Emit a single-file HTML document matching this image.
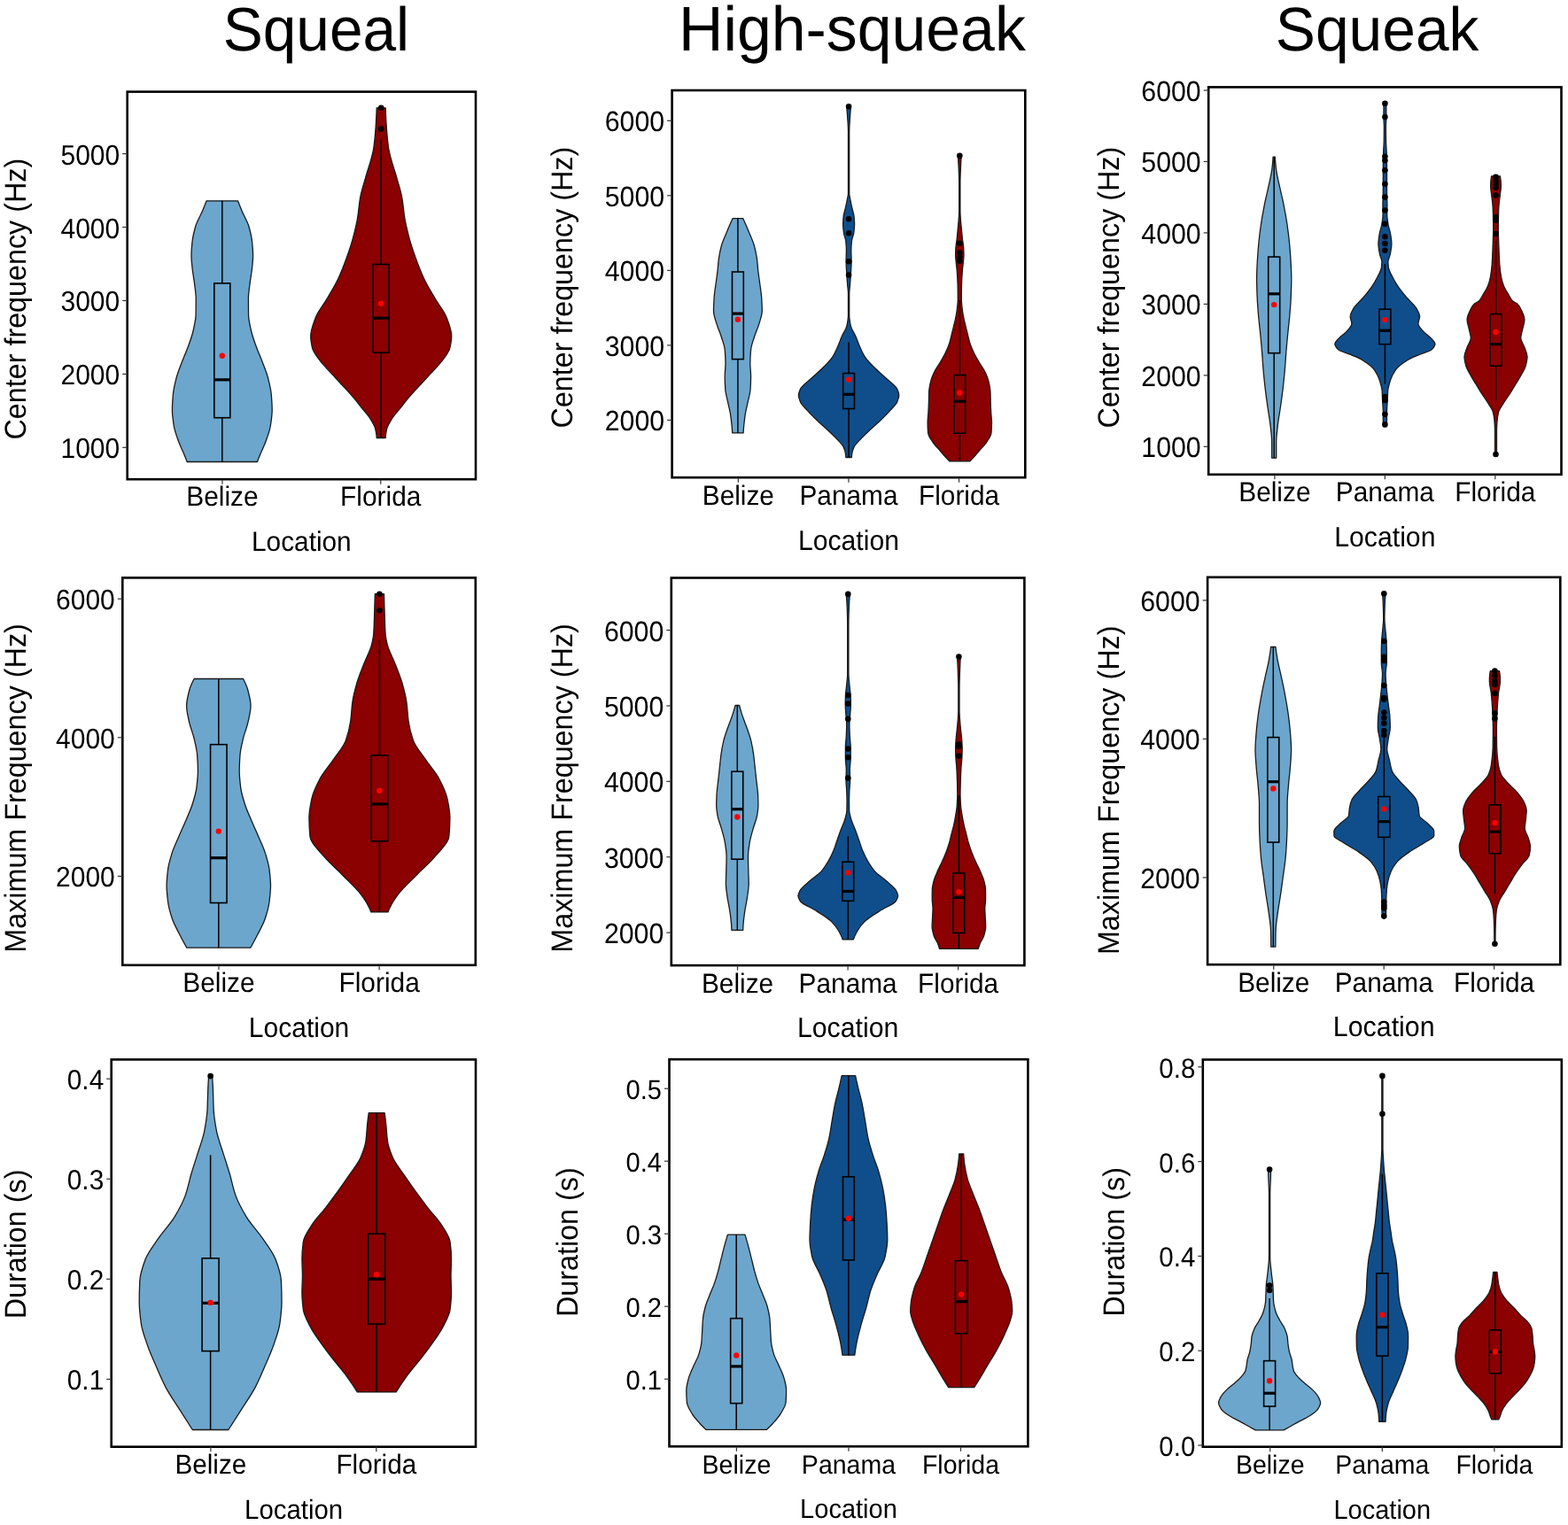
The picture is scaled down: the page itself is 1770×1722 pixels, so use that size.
<!DOCTYPE html>
<html><head><meta charset="utf-8"><title>Violin plots</title>
<style>html,body{margin:0;padding:0;background:#fff;}svg{display:block;font-family:'Liberation Sans', Arial, Helvetica, sans-serif;fill:#000;text-rendering:geometricPrecision;}</style>
</head><body>
<svg xmlns="http://www.w3.org/2000/svg" width="1770" height="1722" viewBox="0 0 1770 1722">
<rect width="1770" height="1722" fill="#fff"/>
<text transform="translate(356.90,57.00) scale(1,1.0300)" font-size="67.60" text-anchor="middle">Squeal</text>
<text transform="translate(961.90,57.10) scale(1,1.0200)" font-size="69.80" text-anchor="middle">High-squeak</text>
<text transform="translate(1554.60,56.60) scale(1,1.0300)" font-size="67.70" text-anchor="middle">Squeak</text>
<path d="M233.10,226.80 L268.50,226.80 C269.94,230.53 271.43,234.27 273.00,238.00 C275.52,244.00 279.31,250.00 281.00,256.00 C282.69,262.00 284.14,268.00 284.70,274.00 C285.15,278.80 285.60,283.60 285.60,288.40 C285.60,293.20 285.01,298.00 284.55,302.80 C283.98,308.80 282.70,314.80 282.00,320.80 C281.37,326.20 280.40,331.60 280.40,337.00 C280.40,343.00 280.44,349.00 280.50,355.00 C280.56,361.00 282.12,367.00 283.40,373.00 C284.68,379.00 286.98,385.00 289.10,391.00 C291.22,397.00 294.06,403.00 296.30,409.00 C298.54,415.00 301.07,421.00 302.60,427.00 C304.13,433.00 305.68,439.00 306.20,445.00 C306.72,451.00 307.20,457.00 307.20,463.00 C307.20,469.00 306.24,475.00 305.30,481.00 C304.36,487.00 301.96,493.00 299.80,499.00 C298.29,503.20 296.14,507.40 294.40,511.60 C293.03,514.90 291.70,518.20 290.40,521.50 L211.20,521.50 C209.90,518.20 208.57,514.90 207.20,511.60 C205.46,507.40 203.31,503.20 201.80,499.00 C199.64,493.00 197.24,487.00 196.30,481.00 C195.36,475.00 194.40,469.00 194.40,463.00 C194.40,457.00 194.88,451.00 195.40,445.00 C195.92,439.00 197.47,433.00 199.00,427.00 C200.53,421.00 203.06,415.00 205.30,409.00 C207.54,403.00 210.38,397.00 212.50,391.00 C214.62,385.00 216.92,379.00 218.20,373.00 C219.48,367.00 221.04,361.00 221.10,355.00 C221.16,349.00 221.20,343.00 221.20,337.00 C221.20,331.60 220.23,326.20 219.60,320.80 C218.90,314.80 217.62,308.80 217.05,302.80 C216.59,298.00 216.00,293.20 216.00,288.40 C216.00,283.60 216.45,278.80 216.90,274.00 C217.46,268.00 218.91,262.00 220.60,256.00 C222.29,250.00 226.08,244.00 228.60,238.00 C230.17,234.27 231.66,230.53 233.10,226.80 Z" fill="#6CA6CD" stroke="#1a1a1a" stroke-width="1.30" stroke-linejoin="round"/>
<path d="M425.20,121.80 L435.20,121.80 C435.39,129.20 435.81,136.60 436.30,144.00 C436.79,151.53 437.44,159.07 438.50,166.60 C439.04,170.40 440.05,174.20 441.00,178.00 C442.88,185.53 445.68,193.07 447.80,200.60 C449.93,208.17 452.47,215.73 453.80,223.30 C455.13,230.87 455.54,238.43 456.80,246.00 C458.06,253.53 459.90,261.07 461.90,268.60 C463.90,276.13 466.51,283.67 469.20,291.20 C471.91,298.77 474.79,306.33 478.30,313.90 C481.81,321.47 486.45,329.03 490.80,336.60 C495.13,344.13 501.68,351.67 504.40,359.20 C506.85,366.00 509.70,372.80 509.70,379.60 C509.70,384.13 508.84,388.67 507.80,393.20 C506.94,396.97 503.87,400.73 501.30,404.50 C496.15,412.07 488.00,419.63 481.20,427.20 C474.43,434.73 466.91,442.27 460.60,449.80 C457.44,453.57 454.67,457.33 451.70,461.10 C448.70,464.90 445.09,468.70 442.70,472.50 C440.33,476.27 437.67,480.03 436.80,483.80 C435.97,487.37 435.20,490.93 435.20,494.50 L425.20,494.50 C425.20,490.93 424.43,487.37 423.60,483.80 C422.73,480.03 420.07,476.27 417.70,472.50 C415.31,468.70 411.70,464.90 408.70,461.10 C405.73,457.33 402.96,453.57 399.80,449.80 C393.49,442.27 385.97,434.73 379.20,427.20 C372.40,419.63 364.25,412.07 359.10,404.50 C356.53,400.73 353.46,396.97 352.60,393.20 C351.56,388.67 350.70,384.13 350.70,379.60 C350.70,372.80 353.55,366.00 356.00,359.20 C358.72,351.67 365.27,344.13 369.60,336.60 C373.95,329.03 378.59,321.47 382.10,313.90 C385.61,306.33 388.49,298.77 391.20,291.20 C393.89,283.67 396.50,276.13 398.50,268.60 C400.50,261.07 402.34,253.53 403.60,246.00 C404.86,238.43 405.27,230.87 406.60,223.30 C407.93,215.73 410.47,208.17 412.60,200.60 C414.72,193.07 417.52,185.53 419.40,178.00 C420.35,174.20 421.36,170.40 421.90,166.60 C422.96,159.07 423.61,151.53 424.10,144.00 C424.59,136.60 425.01,129.20 425.20,121.80 Z" fill="#8B0000" stroke="#1a1a1a" stroke-width="1.30" stroke-linejoin="round"/>
<line x1="250.80" y1="226.80" x2="250.80" y2="319.90" stroke="#000" stroke-width="1.5"/>
<line x1="250.80" y1="471.70" x2="250.80" y2="521.50" stroke="#000" stroke-width="1.5"/>
<rect x="241.80" y="319.90" width="18.00" height="151.80" fill="#6CA6CD" stroke="#000" stroke-width="1.6"/>
<line x1="241.80" y1="428.80" x2="259.80" y2="428.80" stroke="#000" stroke-width="3.2"/>
<circle cx="250.80" cy="401.80" r="3.2" fill="#FF0000"/>
<line x1="430.20" y1="157.60" x2="430.20" y2="298.50" stroke="#000" stroke-width="1.5"/>
<line x1="430.20" y1="398.20" x2="430.20" y2="494.50" stroke="#000" stroke-width="1.5"/>
<rect x="421.20" y="298.50" width="18.00" height="99.70" fill="#8B0000" stroke="#000" stroke-width="1.6"/>
<line x1="421.20" y1="359.20" x2="439.20" y2="359.20" stroke="#000" stroke-width="3.2"/>
<circle cx="430.20" cy="121.80" r="3.3" fill="#000"/>
<circle cx="430.20" cy="145.60" r="3.3" fill="#000"/>
<circle cx="430.20" cy="342.70" r="3.2" fill="#FF0000"/>
<rect x="143.70" y="103.60" width="393.30" height="437.60" fill="none" stroke="#000" stroke-width="2.6"/>
<line x1="138.20" y1="505.30" x2="143.70" y2="505.30" stroke="#333" stroke-width="1.2"/>
<text transform="translate(135.20,517.30) scale(1,1.0600)" font-size="30.00" text-anchor="end">1000</text>
<line x1="138.20" y1="422.38" x2="143.70" y2="422.38" stroke="#333" stroke-width="1.2"/>
<text transform="translate(135.20,434.38) scale(1,1.0600)" font-size="30.00" text-anchor="end">2000</text>
<line x1="138.20" y1="339.45" x2="143.70" y2="339.45" stroke="#333" stroke-width="1.2"/>
<text transform="translate(135.20,351.45) scale(1,1.0600)" font-size="30.00" text-anchor="end">3000</text>
<line x1="138.20" y1="256.52" x2="143.70" y2="256.52" stroke="#333" stroke-width="1.2"/>
<text transform="translate(135.20,268.52) scale(1,1.0600)" font-size="30.00" text-anchor="end">4000</text>
<line x1="138.20" y1="173.60" x2="143.70" y2="173.60" stroke="#333" stroke-width="1.2"/>
<text transform="translate(135.20,185.60) scale(1,1.0600)" font-size="30.00" text-anchor="end">5000</text>
<line x1="250.96" y1="541.20" x2="250.96" y2="546.70" stroke="#333" stroke-width="1.2"/>
<text transform="translate(250.96,571.30) scale(1,1.0450)" font-size="29.90" text-anchor="middle">Belize</text>
<line x1="429.74" y1="541.20" x2="429.74" y2="546.70" stroke="#333" stroke-width="1.2"/>
<text transform="translate(429.74,571.30) scale(1,1.0450)" font-size="29.90" text-anchor="middle">Florida</text>
<text transform="translate(340.35,621.90) scale(1,1.0500)" font-size="29.80" text-anchor="middle">Location</text>
<text transform="translate(29.40,337.65) rotate(-90) scale(1,1.0500)" font-size="32.30" text-anchor="middle">Center frequency (Hz)</text>
<path d="M827.00,246.70 L838.80,246.70 C841.14,251.87 843.38,257.03 845.50,262.20 C847.53,267.13 849.96,272.07 851.30,277.00 C852.65,281.97 853.72,286.93 854.40,291.90 C855.07,296.83 855.33,301.77 855.90,306.70 C856.47,311.63 857.27,316.57 857.90,321.50 C858.53,326.43 859.40,331.37 859.70,336.30 C860.00,341.23 860.30,346.17 860.30,351.10 C860.30,356.03 858.22,360.97 856.80,365.90 C855.38,370.83 852.90,375.77 851.40,380.70 C849.89,385.67 847.90,390.63 847.50,395.60 C847.11,400.53 846.80,405.47 846.80,410.40 C846.80,415.33 847.60,420.27 847.60,425.20 C847.60,430.13 847.33,435.07 847.00,440.00 C846.67,444.93 845.00,449.87 844.00,454.80 C843.00,459.73 841.66,464.67 841.00,469.60 C840.13,476.03 839.35,482.47 839.10,488.90 L826.70,488.90 C826.45,482.47 825.67,476.03 824.80,469.60 C824.14,464.67 822.80,459.73 821.80,454.80 C820.80,449.87 819.13,444.93 818.80,440.00 C818.47,435.07 818.20,430.13 818.20,425.20 C818.20,420.27 819.00,415.33 819.00,410.40 C819.00,405.47 818.69,400.53 818.30,395.60 C817.90,390.63 815.91,385.67 814.40,380.70 C812.90,375.77 810.42,370.83 809.00,365.90 C807.58,360.97 805.50,356.03 805.50,351.10 C805.50,346.17 805.80,341.23 806.10,336.30 C806.40,331.37 807.27,326.43 807.90,321.50 C808.53,316.57 809.33,311.63 809.90,306.70 C810.47,301.77 810.73,296.83 811.40,291.90 C812.08,286.93 813.15,281.97 814.50,277.00 C815.84,272.07 818.27,267.13 820.30,262.20 C822.42,257.03 824.66,251.87 827.00,246.70 Z" fill="#6CA6CD" stroke="#1a1a1a" stroke-width="1.30" stroke-linejoin="round"/>
<path d="M955.90,122.10 L960.30,122.10 C959.91,126.57 959.56,131.03 959.30,135.50 C959.06,139.67 958.70,143.83 958.70,148.00 C958.70,171.50 958.70,195.00 958.70,218.50 C958.70,220.67 959.40,222.83 959.80,225.00 C960.43,228.40 961.15,231.80 961.90,235.20 C962.55,238.17 963.69,241.13 964.00,244.10 C964.31,247.07 964.60,250.03 964.60,253.00 C964.60,256.43 964.15,259.87 963.70,263.30 C963.31,266.27 961.69,269.23 961.40,272.20 C961.07,275.60 960.80,279.00 960.80,282.40 C960.80,286.67 961.10,290.93 961.10,295.20 C961.10,299.47 960.74,303.73 960.50,308.00 C960.26,312.23 959.92,316.47 959.60,320.70 C959.32,324.43 958.70,328.17 958.70,331.90 C958.70,339.83 958.70,347.77 958.70,355.70 C958.70,359.67 959.41,363.63 960.20,367.60 C960.99,371.57 964.08,375.53 965.80,379.50 C967.53,383.50 968.82,387.50 970.60,391.50 C972.37,395.47 974.04,399.43 976.60,403.40 C979.16,407.37 983.37,411.33 987.30,415.30 C991.23,419.27 996.19,423.23 1000.40,427.20 C1004.61,431.17 1010.79,435.13 1012.60,439.10 C1013.68,441.47 1014.80,443.83 1014.80,446.20 C1014.80,448.60 1013.83,451.00 1012.90,453.40 C1011.68,456.57 1008.15,459.73 1005.40,462.90 C1001.95,466.87 997.90,470.83 993.80,474.80 C989.70,478.77 984.86,482.73 980.70,486.70 C976.54,490.67 972.24,494.63 968.80,498.60 C967.07,500.60 965.05,502.60 964.10,504.60 C963.17,506.57 962.48,508.53 962.10,510.50 C961.72,512.50 961.36,514.50 961.30,516.50 L954.90,516.50 C954.84,514.50 954.48,512.50 954.10,510.50 C953.72,508.53 953.03,506.57 952.10,504.60 C951.15,502.60 949.13,500.60 947.40,498.60 C943.96,494.63 939.66,490.67 935.50,486.70 C931.34,482.73 926.50,478.77 922.40,474.80 C918.30,470.83 914.25,466.87 910.80,462.90 C908.05,459.73 904.52,456.57 903.30,453.40 C902.37,451.00 901.40,448.60 901.40,446.20 C901.40,443.83 902.52,441.47 903.60,439.10 C905.41,435.13 911.59,431.17 915.80,427.20 C920.01,423.23 924.97,419.27 928.90,415.30 C932.83,411.33 937.04,407.37 939.60,403.40 C942.16,399.43 943.83,395.47 945.60,391.50 C947.38,387.50 948.67,383.50 950.40,379.50 C952.12,375.53 955.21,371.57 956.00,367.60 C956.79,363.63 957.50,359.67 957.50,355.70 C957.50,347.77 957.50,339.83 957.50,331.90 C957.50,328.17 956.88,324.43 956.60,320.70 C956.28,316.47 955.94,312.23 955.70,308.00 C955.46,303.73 955.10,299.47 955.10,295.20 C955.10,290.93 955.40,286.67 955.40,282.40 C955.40,279.00 955.13,275.60 954.80,272.20 C954.51,269.23 952.89,266.27 952.50,263.30 C952.05,259.87 951.60,256.43 951.60,253.00 C951.60,250.03 951.89,247.07 952.20,244.10 C952.51,241.13 953.65,238.17 954.30,235.20 C955.05,231.80 955.77,228.40 956.40,225.00 C956.80,222.83 957.50,220.67 957.50,218.50 C957.50,195.00 957.50,171.50 957.50,148.00 C957.50,143.83 957.14,139.67 956.90,135.50 C956.64,131.03 956.29,126.57 955.90,122.10 Z" fill="#104E8B" stroke="#1a1a1a" stroke-width="1.30" stroke-linejoin="round"/>
<path d="M1081.50,177.50 L1085.10,177.50 C1084.91,180.30 1084.72,183.10 1084.60,185.90 C1084.29,192.87 1083.90,199.83 1083.90,206.80 C1083.90,217.27 1083.90,227.73 1083.90,238.20 C1083.90,241.67 1084.22,245.13 1084.45,248.60 C1084.68,252.07 1085.08,255.53 1085.40,259.00 C1085.73,262.50 1086.02,266.00 1086.40,269.50 C1086.78,273.00 1087.51,276.50 1087.70,280.00 C1087.85,282.77 1088.00,285.53 1088.00,288.30 C1088.00,290.77 1087.62,293.23 1087.40,295.70 C1087.08,299.17 1086.54,302.63 1086.30,306.10 C1085.93,311.33 1085.61,316.57 1085.50,321.80 C1085.39,327.03 1085.30,332.27 1085.30,337.50 C1085.30,342.57 1086.05,347.63 1086.70,352.70 C1087.19,356.47 1088.16,360.23 1089.00,364.00 C1089.84,367.77 1090.87,371.53 1091.80,375.30 C1092.73,379.07 1093.44,382.83 1094.60,386.60 C1095.77,390.40 1097.43,394.20 1099.20,398.00 C1100.95,401.77 1103.24,405.53 1105.40,409.30 C1107.56,413.07 1110.50,416.83 1112.20,420.60 C1113.91,424.40 1115.49,428.20 1116.30,432.00 C1117.10,435.77 1117.88,439.53 1118.00,443.30 C1118.12,447.07 1118.10,450.83 1118.20,454.60 C1118.30,458.37 1118.50,462.13 1118.70,465.90 C1118.91,469.70 1119.50,473.50 1119.50,477.30 C1119.50,481.07 1119.31,484.83 1119.00,488.60 C1118.69,492.37 1115.73,496.13 1113.30,499.90 C1111.35,502.93 1108.02,505.97 1105.40,509.00 C1103.12,511.63 1100.96,514.27 1098.60,516.90 C1097.41,518.23 1096.16,519.57 1094.90,520.90 L1071.70,520.90 C1070.44,519.57 1069.19,518.23 1068.00,516.90 C1065.64,514.27 1063.48,511.63 1061.20,509.00 C1058.58,505.97 1055.25,502.93 1053.30,499.90 C1050.87,496.13 1047.91,492.37 1047.60,488.60 C1047.29,484.83 1047.10,481.07 1047.10,477.30 C1047.10,473.50 1047.69,469.70 1047.90,465.90 C1048.10,462.13 1048.30,458.37 1048.40,454.60 C1048.50,450.83 1048.48,447.07 1048.60,443.30 C1048.72,439.53 1049.50,435.77 1050.30,432.00 C1051.11,428.20 1052.69,424.40 1054.40,420.60 C1056.10,416.83 1059.04,413.07 1061.20,409.30 C1063.36,405.53 1065.65,401.77 1067.40,398.00 C1069.17,394.20 1070.83,390.40 1072.00,386.60 C1073.16,382.83 1073.87,379.07 1074.80,375.30 C1075.73,371.53 1076.76,367.77 1077.60,364.00 C1078.44,360.23 1079.41,356.47 1079.90,352.70 C1080.55,347.63 1081.30,342.57 1081.30,337.50 C1081.30,332.27 1081.21,327.03 1081.10,321.80 C1080.99,316.57 1080.67,311.33 1080.30,306.10 C1080.06,302.63 1079.52,299.17 1079.20,295.70 C1078.98,293.23 1078.60,290.77 1078.60,288.30 C1078.60,285.53 1078.75,282.77 1078.90,280.00 C1079.09,276.50 1079.82,273.00 1080.20,269.50 C1080.58,266.00 1080.87,262.50 1081.20,259.00 C1081.52,255.53 1081.92,252.07 1082.15,248.60 C1082.38,245.13 1082.70,241.67 1082.70,238.20 C1082.70,227.73 1082.70,217.27 1082.70,206.80 C1082.70,199.83 1082.31,192.87 1082.00,185.90 C1081.88,183.10 1081.69,180.30 1081.50,177.50 Z" fill="#8B0000" stroke="#1a1a1a" stroke-width="1.30" stroke-linejoin="round"/>
<line x1="832.90" y1="246.70" x2="832.90" y2="307.00" stroke="#000" stroke-width="1.5"/>
<line x1="832.90" y1="405.60" x2="832.90" y2="488.90" stroke="#000" stroke-width="1.5"/>
<rect x="826.50" y="307.00" width="12.80" height="98.60" fill="#6CA6CD" stroke="#000" stroke-width="1.6"/>
<line x1="826.50" y1="354.10" x2="839.30" y2="354.10" stroke="#000" stroke-width="3.2"/>
<circle cx="832.90" cy="360.70" r="3.2" fill="#FF0000"/>
<line x1="958.10" y1="386.50" x2="958.10" y2="421.50" stroke="#000" stroke-width="1.5"/>
<line x1="958.10" y1="461.50" x2="958.10" y2="516.50" stroke="#000" stroke-width="1.5"/>
<rect x="951.70" y="421.50" width="12.80" height="40.00" fill="#104E8B" stroke="#000" stroke-width="1.6"/>
<line x1="951.70" y1="445.30" x2="964.50" y2="445.30" stroke="#000" stroke-width="3.2"/>
<circle cx="958.10" cy="120.20" r="3.3" fill="#000"/>
<circle cx="958.10" cy="247.30" r="3.3" fill="#000"/>
<circle cx="958.10" cy="263.30" r="3.3" fill="#000"/>
<circle cx="958.10" cy="295.20" r="3.3" fill="#000"/>
<circle cx="958.10" cy="310.50" r="3.3" fill="#000"/>
<circle cx="958.10" cy="428.60" r="3.2" fill="#FF0000"/>
<line x1="1083.30" y1="339.00" x2="1083.30" y2="423.50" stroke="#000" stroke-width="1.5"/>
<line x1="1083.30" y1="489.20" x2="1083.30" y2="520.90" stroke="#000" stroke-width="1.5"/>
<rect x="1076.90" y="423.50" width="12.80" height="65.70" fill="#8B0000" stroke="#000" stroke-width="1.6"/>
<line x1="1076.90" y1="453.20" x2="1089.70" y2="453.20" stroke="#000" stroke-width="3.2"/>
<circle cx="1083.30" cy="175.70" r="3.3" fill="#000"/>
<circle cx="1083.30" cy="274.80" r="3.3" fill="#000"/>
<circle cx="1083.30" cy="285.20" r="3.3" fill="#000"/>
<circle cx="1083.30" cy="290.40" r="3.3" fill="#000"/>
<circle cx="1083.30" cy="294.60" r="3.3" fill="#000"/>
<circle cx="1083.30" cy="443.50" r="3.2" fill="#FF0000"/>
<rect x="758.60" y="102.00" width="398.70" height="437.20" fill="none" stroke="#000" stroke-width="2.6"/>
<line x1="753.10" y1="474.40" x2="758.60" y2="474.40" stroke="#333" stroke-width="1.2"/>
<text transform="translate(750.10,486.40) scale(1,1.0600)" font-size="30.30" text-anchor="end">2000</text>
<line x1="753.10" y1="389.88" x2="758.60" y2="389.88" stroke="#333" stroke-width="1.2"/>
<text transform="translate(750.10,401.88) scale(1,1.0600)" font-size="30.30" text-anchor="end">3000</text>
<line x1="753.10" y1="305.35" x2="758.60" y2="305.35" stroke="#333" stroke-width="1.2"/>
<text transform="translate(750.10,317.35) scale(1,1.0600)" font-size="30.30" text-anchor="end">4000</text>
<line x1="753.10" y1="220.82" x2="758.60" y2="220.82" stroke="#333" stroke-width="1.2"/>
<text transform="translate(750.10,232.82) scale(1,1.0600)" font-size="30.30" text-anchor="end">5000</text>
<line x1="753.10" y1="136.30" x2="758.60" y2="136.30" stroke="#333" stroke-width="1.2"/>
<text transform="translate(750.10,148.30) scale(1,1.0600)" font-size="30.30" text-anchor="end">6000</text>
<line x1="833.36" y1="539.20" x2="833.36" y2="544.70" stroke="#333" stroke-width="1.2"/>
<text transform="translate(833.36,569.80) scale(1,1.0450)" font-size="29.80" text-anchor="middle">Belize</text>
<line x1="957.95" y1="539.20" x2="957.95" y2="544.70" stroke="#333" stroke-width="1.2"/>
<text transform="translate(957.95,569.80) scale(1,1.0450)" font-size="29.80" text-anchor="middle">Panama</text>
<line x1="1082.54" y1="539.20" x2="1082.54" y2="544.70" stroke="#333" stroke-width="1.2"/>
<text transform="translate(1082.54,569.80) scale(1,1.0450)" font-size="29.80" text-anchor="middle">Florida</text>
<text transform="translate(957.95,620.50) scale(1,1.0500)" font-size="30.15" text-anchor="middle">Location</text>
<text transform="translate(645.50,324.60) rotate(-90) scale(1,1.0500)" font-size="32.30" text-anchor="middle">Center frequency (Hz)</text>
<path d="M1437.10,177.20 L1439.30,177.20 C1439.51,181.67 1439.96,186.13 1440.50,190.60 C1441.33,197.47 1443.15,204.33 1444.60,211.20 C1446.05,218.07 1447.85,224.93 1449.20,231.80 C1450.55,238.67 1451.79,245.53 1452.80,252.40 C1453.81,259.27 1454.74,266.13 1455.40,273.00 C1456.06,279.87 1456.64,286.73 1457.00,293.60 C1457.36,300.47 1457.80,307.33 1457.80,314.20 C1457.80,321.07 1457.55,327.93 1457.30,334.80 C1457.05,341.70 1456.46,348.60 1455.90,355.50 C1455.34,362.33 1454.46,369.17 1453.80,376.00 C1453.13,382.90 1452.46,389.80 1451.90,396.70 C1451.34,403.57 1450.98,410.43 1450.40,417.30 C1449.82,424.17 1449.09,431.03 1448.30,437.90 C1447.51,444.77 1446.56,451.63 1445.60,458.50 C1444.64,465.37 1443.26,472.23 1442.50,479.10 C1441.74,485.97 1440.70,492.83 1440.70,499.70 C1440.70,505.53 1440.70,511.37 1440.70,517.20 L1435.70,517.20 C1435.70,511.37 1435.70,505.53 1435.70,499.70 C1435.70,492.83 1434.66,485.97 1433.90,479.10 C1433.14,472.23 1431.76,465.37 1430.80,458.50 C1429.84,451.63 1428.89,444.77 1428.10,437.90 C1427.31,431.03 1426.58,424.17 1426.00,417.30 C1425.42,410.43 1425.06,403.57 1424.50,396.70 C1423.94,389.80 1423.27,382.90 1422.60,376.00 C1421.94,369.17 1421.06,362.33 1420.50,355.50 C1419.94,348.60 1419.35,341.70 1419.10,334.80 C1418.85,327.93 1418.60,321.07 1418.60,314.20 C1418.60,307.33 1419.04,300.47 1419.40,293.60 C1419.76,286.73 1420.34,279.87 1421.00,273.00 C1421.66,266.13 1422.59,259.27 1423.60,252.40 C1424.61,245.53 1425.85,238.67 1427.20,231.80 C1428.55,224.93 1430.35,218.07 1431.80,211.20 C1433.25,204.33 1435.07,197.47 1435.90,190.60 C1436.44,186.13 1436.89,181.67 1437.10,177.20 Z" fill="#6CA6CD" stroke="#1a1a1a" stroke-width="1.30" stroke-linejoin="round"/>
<path d="M1561.40,117.00 L1565.40,117.00 C1565.14,118.33 1564.80,119.67 1564.80,121.00 C1564.80,124.67 1564.90,128.33 1564.90,132.00 C1564.90,135.67 1564.40,139.33 1564.40,143.00 C1564.40,148.57 1564.46,154.13 1564.55,159.70 C1564.61,163.37 1564.97,167.03 1565.10,170.70 C1565.23,174.37 1565.36,178.03 1565.40,181.70 C1565.46,187.23 1565.50,192.77 1565.50,198.30 C1565.50,203.83 1565.50,209.37 1565.50,214.90 C1565.50,220.40 1565.90,225.90 1565.90,231.40 C1565.90,235.10 1565.70,238.80 1565.70,242.50 C1565.70,246.17 1566.42,249.83 1567.00,253.50 C1567.59,257.17 1569.15,260.83 1569.70,264.50 C1570.26,268.20 1570.90,271.90 1570.90,275.60 C1570.90,279.27 1570.07,282.93 1569.40,286.60 C1568.84,289.67 1566.90,292.73 1566.90,295.80 C1566.90,297.73 1567.09,299.67 1567.30,301.60 C1567.72,305.47 1570.21,309.33 1572.10,313.20 C1574.01,317.10 1576.43,321.00 1579.10,324.90 C1581.75,328.77 1585.13,332.63 1588.40,336.50 C1591.67,340.37 1596.66,344.23 1598.80,348.10 C1600.52,351.20 1602.60,354.30 1602.60,357.40 C1602.60,360.10 1600.90,362.80 1600.90,365.50 C1600.90,368.20 1603.93,370.90 1606.10,373.60 C1608.60,376.70 1613.71,379.80 1616.30,382.90 C1617.78,384.67 1620.00,386.43 1620.00,388.20 C1620.00,390.33 1618.31,392.47 1616.30,394.60 C1614.48,396.53 1606.76,398.47 1602.30,400.40 C1597.84,402.33 1592.64,404.27 1589.50,406.20 C1583.21,410.07 1578.05,413.93 1575.30,417.80 C1572.55,421.67 1570.76,425.53 1569.50,429.40 C1568.24,433.27 1566.98,437.13 1566.70,441.00 C1566.42,444.87 1566.39,448.73 1566.20,452.60 C1566.00,456.50 1565.50,460.40 1565.50,464.30 C1565.50,468.17 1565.50,472.03 1565.50,475.90 C1565.50,477.83 1565.33,479.77 1565.20,481.70 L1561.60,481.70 C1561.47,479.77 1561.30,477.83 1561.30,475.90 C1561.30,472.03 1561.30,468.17 1561.30,464.30 C1561.30,460.40 1560.80,456.50 1560.60,452.60 C1560.41,448.73 1560.38,444.87 1560.10,441.00 C1559.82,437.13 1558.56,433.27 1557.30,429.40 C1556.04,425.53 1554.25,421.67 1551.50,417.80 C1548.75,413.93 1543.59,410.07 1537.30,406.20 C1534.16,404.27 1528.96,402.33 1524.50,400.40 C1520.04,398.47 1512.32,396.53 1510.50,394.60 C1508.49,392.47 1506.80,390.33 1506.80,388.20 C1506.80,386.43 1509.02,384.67 1510.50,382.90 C1513.09,379.80 1518.20,376.70 1520.70,373.60 C1522.87,370.90 1525.90,368.20 1525.90,365.50 C1525.90,362.80 1524.20,360.10 1524.20,357.40 C1524.20,354.30 1526.28,351.20 1528.00,348.10 C1530.14,344.23 1535.13,340.37 1538.40,336.50 C1541.67,332.63 1545.05,328.77 1547.70,324.90 C1550.37,321.00 1552.79,317.10 1554.70,313.20 C1556.59,309.33 1559.08,305.47 1559.50,301.60 C1559.71,299.67 1559.90,297.73 1559.90,295.80 C1559.90,292.73 1557.96,289.67 1557.40,286.60 C1556.73,282.93 1555.90,279.27 1555.90,275.60 C1555.90,271.90 1556.54,268.20 1557.10,264.50 C1557.65,260.83 1559.22,257.17 1559.80,253.50 C1560.38,249.83 1561.10,246.17 1561.10,242.50 C1561.10,238.80 1560.90,235.10 1560.90,231.40 C1560.90,225.90 1561.30,220.40 1561.30,214.90 C1561.30,209.37 1561.30,203.83 1561.30,198.30 C1561.30,192.77 1561.34,187.23 1561.40,181.70 C1561.44,178.03 1561.57,174.37 1561.70,170.70 C1561.83,167.03 1562.19,163.37 1562.25,159.70 C1562.34,154.13 1562.40,148.57 1562.40,143.00 C1562.40,139.33 1561.90,135.67 1561.90,132.00 C1561.90,128.33 1562.00,124.67 1562.00,121.00 C1562.00,119.67 1561.66,118.33 1561.40,117.00 Z" fill="#104E8B" stroke="#1a1a1a" stroke-width="1.30" stroke-linejoin="round"/>
<path d="M1683.60,198.90 L1693.40,198.90 C1694.10,202.50 1694.40,206.10 1694.40,209.70 C1694.40,213.00 1693.76,216.30 1693.40,219.60 C1693.04,222.90 1692.47,226.20 1692.20,229.50 C1691.93,232.80 1691.69,236.10 1691.60,239.40 C1691.43,245.97 1691.30,252.53 1691.30,259.10 C1691.30,265.67 1691.66,272.23 1691.90,278.80 C1692.14,285.40 1692.35,292.00 1692.80,298.60 C1693.14,303.53 1693.80,308.47 1694.70,313.40 C1695.30,316.70 1696.33,320.00 1697.60,323.30 C1698.86,326.57 1701.12,329.83 1703.10,333.10 C1704.49,335.40 1705.30,337.70 1707.60,340.00 C1708.60,341.00 1711.71,342.00 1712.70,343.00 C1715.19,345.50 1716.40,348.00 1717.50,350.50 C1719.03,353.97 1720.90,357.43 1720.90,360.90 C1720.90,364.40 1719.50,367.90 1718.80,371.40 C1718.10,374.87 1716.70,378.33 1716.70,381.80 C1716.70,385.30 1719.70,388.80 1720.90,392.30 C1722.08,395.77 1724.00,399.23 1724.00,402.70 C1724.00,406.20 1723.09,409.70 1722.20,413.20 C1721.31,416.67 1718.89,420.13 1717.00,423.60 C1715.09,427.10 1712.81,430.60 1710.70,434.10 C1708.61,437.57 1706.60,441.03 1704.40,444.50 C1702.18,448.00 1699.53,451.50 1697.40,455.00 C1695.29,458.47 1692.43,461.93 1691.60,465.40 C1690.76,468.90 1690.26,472.40 1690.00,475.90 C1689.75,479.37 1689.50,482.83 1689.50,486.30 C1689.50,493.27 1689.50,500.23 1689.50,507.20 C1689.50,508.93 1689.26,510.67 1689.10,512.40 L1687.90,512.40 C1687.74,510.67 1687.50,508.93 1687.50,507.20 C1687.50,500.23 1687.50,493.27 1687.50,486.30 C1687.50,482.83 1687.25,479.37 1687.00,475.90 C1686.74,472.40 1686.24,468.90 1685.40,465.40 C1684.57,461.93 1681.71,458.47 1679.60,455.00 C1677.47,451.50 1674.82,448.00 1672.60,444.50 C1670.40,441.03 1668.39,437.57 1666.30,434.10 C1664.19,430.60 1661.91,427.10 1660.00,423.60 C1658.11,420.13 1655.69,416.67 1654.80,413.20 C1653.91,409.70 1653.00,406.20 1653.00,402.70 C1653.00,399.23 1654.92,395.77 1656.10,392.30 C1657.30,388.80 1660.30,385.30 1660.30,381.80 C1660.30,378.33 1658.90,374.87 1658.20,371.40 C1657.50,367.90 1656.10,364.40 1656.10,360.90 C1656.10,357.43 1657.97,353.97 1659.50,350.50 C1660.60,348.00 1661.81,345.50 1664.30,343.00 C1665.29,342.00 1668.40,341.00 1669.40,340.00 C1671.70,337.70 1672.51,335.40 1673.90,333.10 C1675.88,329.83 1678.14,326.57 1679.40,323.30 C1680.67,320.00 1681.70,316.70 1682.30,313.40 C1683.20,308.47 1683.86,303.53 1684.20,298.60 C1684.65,292.00 1684.86,285.40 1685.10,278.80 C1685.34,272.23 1685.70,265.67 1685.70,259.10 C1685.70,252.53 1685.57,245.97 1685.40,239.40 C1685.31,236.10 1685.07,232.80 1684.80,229.50 C1684.53,226.20 1683.96,222.90 1683.60,219.60 C1683.24,216.30 1682.60,213.00 1682.60,209.70 C1682.60,206.10 1682.90,202.50 1683.60,198.90 Z" fill="#8B0000" stroke="#1a1a1a" stroke-width="1.30" stroke-linejoin="round"/>
<line x1="1438.20" y1="177.20" x2="1438.20" y2="290.10" stroke="#000" stroke-width="1.5"/>
<line x1="1438.20" y1="398.70" x2="1438.20" y2="517.20" stroke="#000" stroke-width="1.5"/>
<rect x="1431.70" y="290.10" width="13.00" height="108.60" fill="#6CA6CD" stroke="#000" stroke-width="1.6"/>
<line x1="1431.70" y1="331.80" x2="1444.70" y2="331.80" stroke="#000" stroke-width="3.2"/>
<circle cx="1438.20" cy="344.10" r="3.2" fill="#FF0000"/>
<line x1="1563.40" y1="298.10" x2="1563.40" y2="349.20" stroke="#000" stroke-width="1.5"/>
<line x1="1563.40" y1="388.70" x2="1563.40" y2="433.50" stroke="#000" stroke-width="1.5"/>
<rect x="1556.95" y="349.20" width="12.90" height="39.50" fill="#104E8B" stroke="#000" stroke-width="1.6"/>
<line x1="1556.95" y1="373.30" x2="1569.85" y2="373.30" stroke="#000" stroke-width="3.2"/>
<circle cx="1563.40" cy="116.80" r="3.3" fill="#000"/>
<circle cx="1563.40" cy="132.10" r="3.3" fill="#000"/>
<circle cx="1563.40" cy="176.80" r="3.3" fill="#000"/>
<circle cx="1563.40" cy="181.20" r="3.3" fill="#000"/>
<circle cx="1563.40" cy="192.20" r="3.3" fill="#000"/>
<circle cx="1563.40" cy="207.70" r="3.3" fill="#000"/>
<circle cx="1563.40" cy="222.60" r="3.3" fill="#000"/>
<circle cx="1563.40" cy="237.50" r="3.3" fill="#000"/>
<circle cx="1563.40" cy="252.90" r="3.3" fill="#000"/>
<circle cx="1563.40" cy="267.30" r="3.3" fill="#000"/>
<circle cx="1563.40" cy="275.00" r="3.3" fill="#000"/>
<circle cx="1563.40" cy="282.70" r="3.3" fill="#000"/>
<circle cx="1563.40" cy="448.00" r="3.3" fill="#000"/>
<circle cx="1563.40" cy="452.00" r="3.3" fill="#000"/>
<circle cx="1563.40" cy="467.70" r="3.3" fill="#000"/>
<circle cx="1563.40" cy="479.40" r="3.3" fill="#000"/>
<circle cx="1563.40" cy="361.10" r="3.2" fill="#FF0000"/>
<line x1="1688.50" y1="271.90" x2="1688.50" y2="354.60" stroke="#000" stroke-width="1.5"/>
<line x1="1688.50" y1="413.20" x2="1688.50" y2="452.30" stroke="#000" stroke-width="1.5"/>
<rect x="1682.00" y="354.60" width="13.00" height="58.60" fill="#8B0000" stroke="#000" stroke-width="1.6"/>
<line x1="1682.00" y1="388.60" x2="1695.00" y2="388.60" stroke="#000" stroke-width="3.2"/>
<circle cx="1688.50" cy="199.90" r="3.3" fill="#000"/>
<circle cx="1688.50" cy="203.80" r="3.3" fill="#000"/>
<circle cx="1688.50" cy="207.80" r="3.3" fill="#000"/>
<circle cx="1688.50" cy="211.70" r="3.3" fill="#000"/>
<circle cx="1688.50" cy="220.60" r="3.3" fill="#000"/>
<circle cx="1688.50" cy="245.30" r="3.3" fill="#000"/>
<circle cx="1688.50" cy="248.70" r="3.3" fill="#000"/>
<circle cx="1688.50" cy="264.00" r="3.3" fill="#000"/>
<circle cx="1688.50" cy="513.00" r="3.3" fill="#000"/>
<circle cx="1688.50" cy="375.00" r="3.2" fill="#FF0000"/>
<rect x="1364.20" y="98.40" width="398.30" height="437.40" fill="none" stroke="#000" stroke-width="2.6"/>
<line x1="1358.70" y1="504.30" x2="1364.20" y2="504.30" stroke="#333" stroke-width="1.2"/>
<text transform="translate(1355.70,516.30) scale(1,1.0600)" font-size="30.30" text-anchor="end">1000</text>
<line x1="1358.70" y1="423.84" x2="1364.20" y2="423.84" stroke="#333" stroke-width="1.2"/>
<text transform="translate(1355.70,435.84) scale(1,1.0600)" font-size="30.30" text-anchor="end">2000</text>
<line x1="1358.70" y1="343.38" x2="1364.20" y2="343.38" stroke="#333" stroke-width="1.2"/>
<text transform="translate(1355.70,355.38) scale(1,1.0600)" font-size="30.30" text-anchor="end">3000</text>
<line x1="1358.70" y1="262.92" x2="1364.20" y2="262.92" stroke="#333" stroke-width="1.2"/>
<text transform="translate(1355.70,274.92) scale(1,1.0600)" font-size="30.30" text-anchor="end">4000</text>
<line x1="1358.70" y1="182.46" x2="1364.20" y2="182.46" stroke="#333" stroke-width="1.2"/>
<text transform="translate(1355.70,194.46) scale(1,1.0600)" font-size="30.30" text-anchor="end">5000</text>
<line x1="1358.70" y1="102.00" x2="1364.20" y2="102.00" stroke="#333" stroke-width="1.2"/>
<text transform="translate(1355.70,114.00) scale(1,1.0600)" font-size="30.30" text-anchor="end">6000</text>
<line x1="1438.88" y1="535.80" x2="1438.88" y2="541.30" stroke="#333" stroke-width="1.2"/>
<text transform="translate(1438.88,566.20) scale(1,1.0450)" font-size="29.85" text-anchor="middle">Belize</text>
<line x1="1563.35" y1="535.80" x2="1563.35" y2="541.30" stroke="#333" stroke-width="1.2"/>
<text transform="translate(1563.35,566.20) scale(1,1.0450)" font-size="29.85" text-anchor="middle">Panama</text>
<line x1="1687.82" y1="535.80" x2="1687.82" y2="541.30" stroke="#333" stroke-width="1.2"/>
<text transform="translate(1687.82,566.20) scale(1,1.0450)" font-size="29.85" text-anchor="middle">Florida</text>
<text transform="translate(1563.35,616.80) scale(1,1.0500)" font-size="30.20" text-anchor="middle">Location</text>
<text transform="translate(1262.50,324.60) rotate(-90) scale(1,1.0500)" font-size="32.30" text-anchor="middle">Center frequency (Hz)</text>
<path d="M219.10,766.50 L274.50,766.50 C276.58,770.50 278.54,774.50 279.60,778.50 C281.22,784.63 283.00,790.77 283.00,796.90 C283.00,803.07 281.29,809.23 280.00,815.40 C278.71,821.57 275.93,827.73 274.50,833.90 C273.08,840.03 271.43,846.17 271.00,852.30 C270.57,858.47 270.20,864.63 270.20,870.80 C270.20,876.97 270.94,883.13 271.70,889.30 C272.45,895.43 274.41,901.57 276.30,907.70 C278.20,913.87 281.12,920.03 283.70,926.20 C286.28,932.37 289.18,938.53 291.80,944.70 C294.41,950.83 297.50,956.97 299.40,963.10 C301.31,969.27 303.25,975.43 304.00,981.60 C304.75,987.77 305.50,993.93 305.50,1000.10 C305.50,1006.23 304.75,1012.37 304.00,1018.50 C303.24,1024.67 301.41,1030.83 299.40,1037.00 C297.39,1043.17 293.80,1049.33 290.70,1055.50 C288.24,1060.40 285.58,1065.30 282.80,1070.20 L210.80,1070.20 C208.02,1065.30 205.36,1060.40 202.90,1055.50 C199.80,1049.33 196.21,1043.17 194.20,1037.00 C192.19,1030.83 190.36,1024.67 189.60,1018.50 C188.85,1012.37 188.10,1006.23 188.10,1000.10 C188.10,993.93 188.85,987.77 189.60,981.60 C190.35,975.43 192.29,969.27 194.20,963.10 C196.10,956.97 199.19,950.83 201.80,944.70 C204.42,938.53 207.32,932.37 209.90,926.20 C212.48,920.03 215.40,913.87 217.30,907.70 C219.19,901.57 221.15,895.43 221.90,889.30 C222.66,883.13 223.40,876.97 223.40,870.80 C223.40,864.63 223.03,858.47 222.60,852.30 C222.17,846.17 220.52,840.03 219.10,833.90 C217.67,827.73 214.89,821.57 213.60,815.40 C212.31,809.23 210.60,803.07 210.60,796.90 C210.60,790.77 212.38,784.63 214.00,778.50 C215.06,774.50 217.02,770.50 219.10,766.50 Z" fill="#6CA6CD" stroke="#1a1a1a" stroke-width="1.30" stroke-linejoin="round"/>
<path d="M423.30,670.70 L433.50,670.70 C433.68,678.70 433.93,686.70 434.20,694.70 C434.45,701.93 434.57,709.17 435.10,716.40 C435.36,720.03 436.22,723.67 437.10,727.30 C438.85,734.57 443.01,741.83 445.80,749.10 C448.57,756.33 451.73,763.57 453.80,770.80 C455.88,778.07 457.88,785.33 458.90,792.60 C459.92,799.87 460.06,807.13 461.10,814.40 C462.14,821.63 463.90,828.87 466.50,836.10 C469.11,843.37 475.71,850.63 480.60,857.90 C485.49,865.17 492.14,872.43 495.90,879.70 C499.64,886.93 503.27,894.17 504.80,901.40 C506.34,908.67 507.90,915.93 507.90,923.20 C507.90,930.47 507.48,937.73 506.80,945.00 C506.12,952.23 497.47,959.47 491.50,966.70 C485.50,973.97 476.86,981.23 469.80,988.50 C462.74,995.77 454.60,1003.03 449.10,1010.30 C446.35,1013.93 443.98,1017.57 442.00,1021.20 C440.42,1024.10 439.03,1027.00 437.90,1029.90 L418.90,1029.90 C417.77,1027.00 416.38,1024.10 414.80,1021.20 C412.82,1017.57 410.45,1013.93 407.70,1010.30 C402.20,1003.03 394.06,995.77 387.00,988.50 C379.94,981.23 371.30,973.97 365.30,966.70 C359.33,959.47 350.68,952.23 350.00,945.00 C349.32,937.73 348.90,930.47 348.90,923.20 C348.90,915.93 350.46,908.67 352.00,901.40 C353.53,894.17 357.16,886.93 360.90,879.70 C364.66,872.43 371.31,865.17 376.20,857.90 C381.09,850.63 387.69,843.37 390.30,836.10 C392.90,828.87 394.66,821.63 395.70,814.40 C396.74,807.13 396.88,799.87 397.90,792.60 C398.92,785.33 400.92,778.07 403.00,770.80 C405.07,763.57 408.23,756.33 411.00,749.10 C413.79,741.83 417.95,734.57 419.70,727.30 C420.58,723.67 421.44,720.03 421.70,716.40 C422.23,709.17 422.35,701.93 422.60,694.70 C422.87,686.70 423.12,678.70 423.30,670.70 Z" fill="#8B0000" stroke="#1a1a1a" stroke-width="1.30" stroke-linejoin="round"/>
<line x1="246.80" y1="766.50" x2="246.80" y2="840.70" stroke="#000" stroke-width="1.5"/>
<line x1="246.80" y1="1019.50" x2="246.80" y2="1070.20" stroke="#000" stroke-width="1.5"/>
<rect x="237.55" y="840.70" width="18.50" height="178.80" fill="#6CA6CD" stroke="#000" stroke-width="1.6"/>
<line x1="237.55" y1="968.70" x2="256.05" y2="968.70" stroke="#000" stroke-width="3.2"/>
<circle cx="246.80" cy="938.60" r="3.2" fill="#FF0000"/>
<line x1="428.40" y1="722.50" x2="428.40" y2="852.90" stroke="#000" stroke-width="1.5"/>
<line x1="428.40" y1="949.80" x2="428.40" y2="1029.90" stroke="#000" stroke-width="1.5"/>
<rect x="419.10" y="852.90" width="18.60" height="96.90" fill="#8B0000" stroke="#000" stroke-width="1.6"/>
<line x1="419.10" y1="908.00" x2="437.70" y2="908.00" stroke="#000" stroke-width="3.2"/>
<circle cx="428.40" cy="670.70" r="3.3" fill="#000"/>
<circle cx="428.40" cy="689.20" r="3.3" fill="#000"/>
<circle cx="428.40" cy="892.70" r="3.2" fill="#FF0000"/>
<rect x="138.30" y="652.40" width="398.50" height="437.40" fill="none" stroke="#000" stroke-width="2.6"/>
<line x1="132.80" y1="989.40" x2="138.30" y2="989.40" stroke="#333" stroke-width="1.2"/>
<text transform="translate(129.80,1001.40) scale(1,1.0600)" font-size="30.00" text-anchor="end">2000</text>
<line x1="132.80" y1="832.80" x2="138.30" y2="832.80" stroke="#333" stroke-width="1.2"/>
<text transform="translate(129.80,844.80) scale(1,1.0600)" font-size="30.00" text-anchor="end">4000</text>
<line x1="132.80" y1="676.20" x2="138.30" y2="676.20" stroke="#333" stroke-width="1.2"/>
<text transform="translate(129.80,688.20) scale(1,1.0600)" font-size="30.00" text-anchor="end">6000</text>
<line x1="246.98" y1="1089.80" x2="246.98" y2="1095.30" stroke="#333" stroke-width="1.2"/>
<text transform="translate(246.98,1120.00) scale(1,1.0450)" font-size="29.90" text-anchor="middle">Belize</text>
<line x1="428.12" y1="1089.80" x2="428.12" y2="1095.30" stroke="#333" stroke-width="1.2"/>
<text transform="translate(428.12,1120.00) scale(1,1.0450)" font-size="29.90" text-anchor="middle">Florida</text>
<text transform="translate(337.55,1170.90) scale(1,1.0500)" font-size="30.00" text-anchor="middle">Location</text>
<text transform="translate(29.40,889.95) rotate(-90) scale(1,1.0500)" font-size="32.30" text-anchor="middle">Maximum Frequency (Hz)</text>
<path d="M830.00,796.50 L834.60,796.50 C835.34,799.47 836.17,802.43 837.10,805.40 C838.71,810.53 840.94,815.67 842.70,820.80 C844.46,825.93 846.48,831.07 847.70,836.20 C848.92,841.33 849.89,846.47 850.60,851.60 C851.31,856.73 851.73,861.87 852.30,867.00 C852.87,872.13 853.45,877.27 854.00,882.40 C854.55,887.53 855.40,892.67 855.60,897.80 C855.76,901.90 855.90,906.00 855.90,910.10 C855.90,913.70 855.20,917.30 854.60,920.90 C853.74,926.03 851.39,931.17 850.00,936.30 C848.61,941.43 846.98,946.57 846.20,951.70 C845.42,956.83 844.50,961.97 844.50,967.10 C844.50,972.23 844.69,977.37 844.80,982.50 C844.91,987.63 845.20,992.77 845.20,997.90 C845.20,1003.03 844.20,1008.17 843.50,1013.30 C842.80,1018.43 841.52,1023.57 840.80,1028.70 C840.08,1033.83 839.33,1038.97 839.00,1044.10 C838.87,1046.17 838.76,1048.23 838.70,1050.30 L825.90,1050.30 C825.84,1048.23 825.73,1046.17 825.60,1044.10 C825.27,1038.97 824.52,1033.83 823.80,1028.70 C823.08,1023.57 821.80,1018.43 821.10,1013.30 C820.40,1008.17 819.40,1003.03 819.40,997.90 C819.40,992.77 819.69,987.63 819.80,982.50 C819.91,977.37 820.10,972.23 820.10,967.10 C820.10,961.97 819.18,956.83 818.40,951.70 C817.62,946.57 815.99,941.43 814.60,936.30 C813.21,931.17 810.86,926.03 810.00,920.90 C809.40,917.30 808.70,913.70 808.70,910.10 C808.70,906.00 808.84,901.90 809.00,897.80 C809.20,892.67 810.05,887.53 810.60,882.40 C811.15,877.27 811.73,872.13 812.30,867.00 C812.87,861.87 813.29,856.73 814.00,851.60 C814.71,846.47 815.68,841.33 816.90,836.20 C818.12,831.07 820.14,825.93 821.90,820.80 C823.66,815.67 825.89,810.53 827.50,805.40 C828.43,802.43 829.26,799.47 830.00,796.50 Z" fill="#6CA6CD" stroke="#1a1a1a" stroke-width="1.30" stroke-linejoin="round"/>
<path d="M955.30,671.40 L959.30,671.40 C958.95,675.63 958.62,679.87 958.45,684.10 C958.19,690.50 957.90,696.90 957.90,703.30 C957.90,722.43 957.90,741.57 957.90,760.70 C957.90,764.97 958.52,769.23 958.90,773.50 C959.28,777.77 960.05,782.03 960.20,786.30 C960.31,789.27 960.40,792.23 960.40,795.20 C960.40,798.60 960.02,802.00 959.80,805.40 C959.53,809.67 958.90,813.93 958.90,818.20 C958.90,822.47 959.11,826.73 959.30,831.00 C959.48,835.23 960.20,839.47 960.20,843.70 C960.20,847.97 960.20,852.23 960.20,856.50 C960.20,860.77 959.30,865.03 959.30,869.30 C959.30,873.30 959.60,877.30 959.60,881.30 C959.60,885.10 959.06,888.90 958.90,892.70 C958.74,896.47 958.55,900.23 958.55,904.00 C958.55,907.77 958.61,911.53 958.70,915.30 C958.79,919.07 960.21,922.83 961.30,926.60 C962.40,930.40 964.38,934.20 965.80,938.00 C967.21,941.77 968.48,945.53 969.80,949.30 C971.12,953.07 972.16,956.83 973.70,960.60 C975.25,964.40 977.22,968.20 979.40,972.00 C981.56,975.77 983.78,979.53 987.00,983.30 C990.22,987.07 996.21,990.83 1000.30,994.60 C1004.39,998.37 1009.84,1002.13 1011.70,1005.90 C1012.64,1007.80 1013.70,1009.70 1013.70,1011.60 C1013.70,1013.50 1012.55,1015.40 1011.40,1017.30 C1009.12,1021.07 998.74,1024.83 993.00,1028.60 C987.26,1032.37 980.66,1036.13 976.80,1039.90 C972.94,1043.67 969.96,1047.43 967.80,1051.20 C965.94,1054.43 964.35,1057.67 963.40,1060.90 L951.20,1060.90 C950.25,1057.67 948.66,1054.43 946.80,1051.20 C944.64,1047.43 941.66,1043.67 937.80,1039.90 C933.94,1036.13 927.34,1032.37 921.60,1028.60 C915.86,1024.83 905.48,1021.07 903.20,1017.30 C902.05,1015.40 900.90,1013.50 900.90,1011.60 C900.90,1009.70 901.96,1007.80 902.90,1005.90 C904.76,1002.13 910.21,998.37 914.30,994.60 C918.39,990.83 924.38,987.07 927.60,983.30 C930.82,979.53 933.04,975.77 935.20,972.00 C937.38,968.20 939.35,964.40 940.90,960.60 C942.44,956.83 943.48,953.07 944.80,949.30 C946.12,945.53 947.39,941.77 948.80,938.00 C950.22,934.20 952.20,930.40 953.30,926.60 C954.39,922.83 955.81,919.07 955.90,915.30 C955.99,911.53 956.05,907.77 956.05,904.00 C956.05,900.23 955.86,896.47 955.70,892.70 C955.54,888.90 955.00,885.10 955.00,881.30 C955.00,877.30 955.30,873.30 955.30,869.30 C955.30,865.03 954.40,860.77 954.40,856.50 C954.40,852.23 954.40,847.97 954.40,843.70 C954.40,839.47 955.12,835.23 955.30,831.00 C955.49,826.73 955.70,822.47 955.70,818.20 C955.70,813.93 955.07,809.67 954.80,805.40 C954.58,802.00 954.20,798.60 954.20,795.20 C954.20,792.23 954.29,789.27 954.40,786.30 C954.55,782.03 955.32,777.77 955.70,773.50 C956.08,769.23 956.70,764.97 956.70,760.70 C956.70,741.57 956.70,722.43 956.70,703.30 C956.70,696.90 956.41,690.50 956.15,684.10 C955.98,679.87 955.65,675.63 955.30,671.40 Z" fill="#104E8B" stroke="#1a1a1a" stroke-width="1.30" stroke-linejoin="round"/>
<path d="M1080.60,742.30 L1084.20,742.30 C1083.94,746.83 1083.71,751.37 1083.55,755.90 C1083.31,762.87 1083.00,769.83 1083.00,776.80 C1083.00,785.53 1083.00,794.27 1083.00,803.00 C1083.00,806.47 1083.32,809.93 1083.55,813.40 C1083.78,816.87 1084.16,820.33 1084.50,823.80 C1084.84,827.30 1085.34,830.80 1085.60,834.30 C1085.86,837.80 1086.20,841.30 1086.20,844.80 C1086.20,848.27 1086.05,851.73 1085.90,855.20 C1085.75,858.70 1085.21,862.20 1085.00,865.70 C1084.69,870.90 1084.44,876.10 1084.30,881.30 C1084.16,886.53 1084.00,891.77 1084.00,897.00 C1084.00,901.50 1084.29,906.00 1084.60,910.50 C1084.84,913.97 1085.53,917.43 1086.10,920.90 C1086.67,924.40 1087.33,927.90 1088.10,931.40 C1088.86,934.87 1089.92,938.33 1090.80,941.80 C1091.69,945.30 1092.39,948.80 1093.40,952.30 C1094.40,955.77 1095.67,959.23 1097.00,962.70 C1098.34,966.20 1099.93,969.70 1101.50,973.20 C1103.06,976.67 1104.90,980.13 1106.40,983.60 C1107.91,987.10 1109.72,990.60 1110.60,994.10 C1111.47,997.57 1112.44,1001.03 1112.50,1004.50 C1112.56,1008.00 1112.60,1011.50 1112.60,1015.00 C1112.60,1018.47 1111.80,1021.93 1111.80,1025.40 C1111.80,1028.90 1112.05,1032.40 1112.20,1035.90 C1112.35,1039.37 1112.70,1042.83 1112.70,1046.30 C1112.70,1049.80 1111.62,1053.30 1110.60,1056.80 C1109.79,1059.57 1107.50,1062.33 1106.40,1065.10 C1105.56,1067.20 1104.84,1069.30 1104.30,1071.40 L1060.50,1071.40 C1059.96,1069.30 1059.24,1067.20 1058.40,1065.10 C1057.30,1062.33 1055.01,1059.57 1054.20,1056.80 C1053.18,1053.30 1052.10,1049.80 1052.10,1046.30 C1052.10,1042.83 1052.45,1039.37 1052.60,1035.90 C1052.75,1032.40 1053.00,1028.90 1053.00,1025.40 C1053.00,1021.93 1052.20,1018.47 1052.20,1015.00 C1052.20,1011.50 1052.24,1008.00 1052.30,1004.50 C1052.36,1001.03 1053.33,997.57 1054.20,994.10 C1055.08,990.60 1056.89,987.10 1058.40,983.60 C1059.90,980.13 1061.74,976.67 1063.30,973.20 C1064.87,969.70 1066.46,966.20 1067.80,962.70 C1069.13,959.23 1070.40,955.77 1071.40,952.30 C1072.41,948.80 1073.11,945.30 1074.00,941.80 C1074.88,938.33 1075.94,934.87 1076.70,931.40 C1077.47,927.90 1078.13,924.40 1078.70,920.90 C1079.27,917.43 1079.96,913.97 1080.20,910.50 C1080.51,906.00 1080.80,901.50 1080.80,897.00 C1080.80,891.77 1080.64,886.53 1080.50,881.30 C1080.36,876.10 1080.11,870.90 1079.80,865.70 C1079.59,862.20 1079.05,858.70 1078.90,855.20 C1078.75,851.73 1078.60,848.27 1078.60,844.80 C1078.60,841.30 1078.94,837.80 1079.20,834.30 C1079.46,830.80 1079.96,827.30 1080.30,823.80 C1080.64,820.33 1081.02,816.87 1081.25,813.40 C1081.48,809.93 1081.80,806.47 1081.80,803.00 C1081.80,794.27 1081.80,785.53 1081.80,776.80 C1081.80,769.83 1081.49,762.87 1081.25,755.90 C1081.09,751.37 1080.86,746.83 1080.60,742.30 Z" fill="#8B0000" stroke="#1a1a1a" stroke-width="1.30" stroke-linejoin="round"/>
<line x1="832.30" y1="796.50" x2="832.30" y2="871.20" stroke="#000" stroke-width="1.5"/>
<line x1="832.30" y1="970.20" x2="832.30" y2="1050.30" stroke="#000" stroke-width="1.5"/>
<rect x="825.85" y="871.20" width="12.90" height="99.00" fill="#6CA6CD" stroke="#000" stroke-width="1.6"/>
<line x1="825.85" y1="913.70" x2="838.75" y2="913.70" stroke="#000" stroke-width="3.2"/>
<circle cx="832.30" cy="922.50" r="3.2" fill="#FF0000"/>
<line x1="957.30" y1="944.20" x2="957.30" y2="973.30" stroke="#000" stroke-width="1.5"/>
<line x1="957.30" y1="1017.30" x2="957.30" y2="1060.90" stroke="#000" stroke-width="1.5"/>
<rect x="950.90" y="973.30" width="12.80" height="44.00" fill="#104E8B" stroke="#000" stroke-width="1.6"/>
<line x1="950.90" y1="1006.50" x2="963.70" y2="1006.50" stroke="#000" stroke-width="3.2"/>
<circle cx="957.30" cy="670.70" r="3.3" fill="#000"/>
<circle cx="957.30" cy="785.00" r="3.3" fill="#000"/>
<circle cx="957.30" cy="794.60" r="3.3" fill="#000"/>
<circle cx="957.30" cy="811.80" r="3.3" fill="#000"/>
<circle cx="957.30" cy="845.60" r="3.3" fill="#000"/>
<circle cx="957.30" cy="855.20" r="3.3" fill="#000"/>
<circle cx="957.30" cy="878.60" r="3.3" fill="#000"/>
<circle cx="957.30" cy="985.50" r="3.2" fill="#FF0000"/>
<line x1="1082.40" y1="898.00" x2="1082.40" y2="985.90" stroke="#000" stroke-width="1.5"/>
<line x1="1082.40" y1="1053.40" x2="1082.40" y2="1071.40" stroke="#000" stroke-width="1.5"/>
<rect x="1076.00" y="985.90" width="12.80" height="67.50" fill="#8B0000" stroke="#000" stroke-width="1.6"/>
<line x1="1076.00" y1="1013.40" x2="1088.80" y2="1013.40" stroke="#000" stroke-width="3.2"/>
<circle cx="1082.40" cy="741.50" r="3.3" fill="#000"/>
<circle cx="1082.40" cy="840.60" r="3.3" fill="#000"/>
<circle cx="1082.40" cy="842.70" r="3.3" fill="#000"/>
<circle cx="1082.40" cy="853.60" r="3.3" fill="#000"/>
<circle cx="1082.40" cy="1007.10" r="3.2" fill="#FF0000"/>
<rect x="757.80" y="652.50" width="398.60" height="437.60" fill="none" stroke="#000" stroke-width="2.6"/>
<line x1="752.30" y1="1053.10" x2="757.80" y2="1053.10" stroke="#333" stroke-width="1.2"/>
<text transform="translate(749.30,1065.10) scale(1,1.0600)" font-size="30.30" text-anchor="end">2000</text>
<line x1="752.30" y1="967.72" x2="757.80" y2="967.72" stroke="#333" stroke-width="1.2"/>
<text transform="translate(749.30,979.72) scale(1,1.0600)" font-size="30.30" text-anchor="end">3000</text>
<line x1="752.30" y1="882.35" x2="757.80" y2="882.35" stroke="#333" stroke-width="1.2"/>
<text transform="translate(749.30,894.35) scale(1,1.0600)" font-size="30.30" text-anchor="end">4000</text>
<line x1="752.30" y1="796.98" x2="757.80" y2="796.98" stroke="#333" stroke-width="1.2"/>
<text transform="translate(749.30,808.98) scale(1,1.0600)" font-size="30.30" text-anchor="end">5000</text>
<line x1="752.30" y1="711.60" x2="757.80" y2="711.60" stroke="#333" stroke-width="1.2"/>
<text transform="translate(749.30,723.60) scale(1,1.0600)" font-size="30.30" text-anchor="end">6000</text>
<line x1="832.54" y1="1090.10" x2="832.54" y2="1095.60" stroke="#333" stroke-width="1.2"/>
<text transform="translate(832.54,1120.60) scale(1,1.0450)" font-size="29.80" text-anchor="middle">Belize</text>
<line x1="957.10" y1="1090.10" x2="957.10" y2="1095.60" stroke="#333" stroke-width="1.2"/>
<text transform="translate(957.10,1120.60) scale(1,1.0450)" font-size="29.80" text-anchor="middle">Panama</text>
<line x1="1081.66" y1="1090.10" x2="1081.66" y2="1095.60" stroke="#333" stroke-width="1.2"/>
<text transform="translate(1081.66,1120.60) scale(1,1.0450)" font-size="29.80" text-anchor="middle">Florida</text>
<text transform="translate(957.10,1170.90) scale(1,1.0500)" font-size="30.25" text-anchor="middle">Location</text>
<text transform="translate(645.50,889.95) rotate(-90) scale(1,1.0500)" font-size="32.30" text-anchor="middle">Maximum Frequency (Hz)</text>
<path d="M1434.65,730.50 L1439.95,730.50 C1440.50,735.13 1441.19,739.77 1442.00,744.40 C1443.19,751.20 1445.06,758.00 1446.50,764.80 C1447.95,771.63 1449.44,778.47 1450.70,785.30 C1451.95,792.10 1453.19,798.90 1454.10,805.70 C1455.01,812.50 1455.87,819.30 1456.40,826.10 C1456.93,832.90 1457.60,839.70 1457.60,846.50 C1457.60,853.33 1456.90,860.17 1456.40,867.00 C1455.90,873.80 1454.93,880.60 1454.40,887.40 C1453.87,894.20 1453.10,901.00 1453.10,907.80 C1453.10,914.60 1453.10,921.40 1453.10,928.20 C1453.10,935.00 1452.78,941.80 1452.50,948.60 C1452.22,955.40 1451.71,962.20 1451.10,969.00 C1450.48,975.83 1449.32,982.67 1448.40,989.50 C1447.49,996.30 1446.60,1003.10 1445.60,1009.90 C1444.60,1016.70 1443.29,1023.50 1442.40,1030.30 C1441.51,1037.10 1440.26,1043.90 1440.10,1050.70 C1439.95,1056.83 1439.85,1062.97 1439.85,1069.10 L1434.75,1069.10 C1434.75,1062.97 1434.65,1056.83 1434.50,1050.70 C1434.34,1043.90 1433.09,1037.10 1432.20,1030.30 C1431.31,1023.50 1430.00,1016.70 1429.00,1009.90 C1428.00,1003.10 1427.11,996.30 1426.20,989.50 C1425.28,982.67 1424.12,975.83 1423.50,969.00 C1422.89,962.20 1422.38,955.40 1422.10,948.60 C1421.82,941.80 1421.50,935.00 1421.50,928.20 C1421.50,921.40 1421.50,914.60 1421.50,907.80 C1421.50,901.00 1420.73,894.20 1420.20,887.40 C1419.67,880.60 1418.70,873.80 1418.20,867.00 C1417.70,860.17 1417.00,853.33 1417.00,846.50 C1417.00,839.70 1417.67,832.90 1418.20,826.10 C1418.73,819.30 1419.59,812.50 1420.50,805.70 C1421.41,798.90 1422.65,792.10 1423.90,785.30 C1425.16,778.47 1426.65,771.63 1428.10,764.80 C1429.54,758.00 1431.41,751.20 1432.60,744.40 C1433.41,739.77 1434.10,735.13 1434.65,730.50 Z" fill="#6CA6CD" stroke="#1a1a1a" stroke-width="1.30" stroke-linejoin="round"/>
<path d="M1560.50,670.30 L1564.10,670.30 C1563.76,673.97 1563.43,677.63 1563.30,681.30 C1563.09,687.40 1562.90,693.50 1562.90,699.60 C1562.90,703.67 1563.55,707.73 1563.90,711.80 C1564.25,715.87 1564.84,719.93 1565.00,724.00 C1565.16,728.07 1565.30,732.13 1565.30,736.20 C1565.30,740.27 1565.30,744.33 1565.30,748.40 C1565.30,752.47 1564.10,756.53 1564.10,760.60 C1564.10,764.67 1564.43,768.73 1564.70,772.80 C1564.97,776.87 1565.55,780.93 1566.00,785.00 C1566.45,789.03 1566.92,793.07 1567.40,797.10 C1567.88,801.17 1568.69,805.23 1568.90,809.30 C1569.11,813.37 1569.30,817.43 1569.30,821.50 C1569.30,825.57 1567.89,829.63 1567.30,833.70 C1566.71,837.77 1565.70,841.83 1565.70,845.90 C1565.70,849.97 1567.48,854.03 1568.40,858.10 C1569.34,862.23 1569.81,866.37 1571.30,870.50 C1572.62,874.17 1576.43,877.83 1579.50,881.50 C1582.49,885.07 1586.55,888.63 1589.70,892.20 C1592.88,895.80 1597.08,899.40 1598.60,903.00 C1599.81,905.87 1600.63,908.73 1601.10,911.60 C1601.63,914.80 1601.53,918.00 1602.20,921.20 C1602.80,924.07 1608.79,926.93 1611.50,929.80 C1614.21,932.67 1618.70,935.53 1618.70,938.40 C1618.70,940.20 1618.70,942.00 1618.70,943.80 C1618.70,946.30 1612.20,948.80 1608.50,951.30 C1603.18,954.90 1595.93,958.50 1590.80,962.10 C1585.72,965.67 1580.34,969.23 1577.30,972.80 C1574.26,976.37 1571.94,979.93 1570.40,983.50 C1568.85,987.10 1567.64,990.70 1566.90,994.30 C1566.17,997.87 1565.55,1001.43 1565.30,1005.00 C1565.05,1008.60 1564.89,1012.20 1564.80,1015.80 C1564.67,1021.17 1564.71,1026.53 1564.55,1031.90 C1564.52,1032.97 1564.39,1034.03 1564.30,1035.10 L1560.30,1035.10 C1560.21,1034.03 1560.08,1032.97 1560.05,1031.90 C1559.89,1026.53 1559.93,1021.17 1559.80,1015.80 C1559.71,1012.20 1559.55,1008.60 1559.30,1005.00 C1559.05,1001.43 1558.43,997.87 1557.70,994.30 C1556.96,990.70 1555.75,987.10 1554.20,983.50 C1552.66,979.93 1550.34,976.37 1547.30,972.80 C1544.26,969.23 1538.88,965.67 1533.80,962.10 C1528.67,958.50 1521.42,954.90 1516.10,951.30 C1512.40,948.80 1505.90,946.30 1505.90,943.80 C1505.90,942.00 1505.90,940.20 1505.90,938.40 C1505.90,935.53 1510.39,932.67 1513.10,929.80 C1515.81,926.93 1521.80,924.07 1522.40,921.20 C1523.07,918.00 1522.97,914.80 1523.50,911.60 C1523.97,908.73 1524.79,905.87 1526.00,903.00 C1527.52,899.40 1531.72,895.80 1534.90,892.20 C1538.05,888.63 1542.11,885.07 1545.10,881.50 C1548.17,877.83 1551.98,874.17 1553.30,870.50 C1554.79,866.37 1555.26,862.23 1556.20,858.10 C1557.12,854.03 1558.90,849.97 1558.90,845.90 C1558.90,841.83 1557.89,837.77 1557.30,833.70 C1556.71,829.63 1555.30,825.57 1555.30,821.50 C1555.30,817.43 1555.49,813.37 1555.70,809.30 C1555.91,805.23 1556.72,801.17 1557.20,797.10 C1557.68,793.07 1558.15,789.03 1558.60,785.00 C1559.05,780.93 1559.63,776.87 1559.90,772.80 C1560.17,768.73 1560.50,764.67 1560.50,760.60 C1560.50,756.53 1559.30,752.47 1559.30,748.40 C1559.30,744.33 1559.30,740.27 1559.30,736.20 C1559.30,732.13 1559.44,728.07 1559.60,724.00 C1559.76,719.93 1560.35,715.87 1560.70,711.80 C1561.05,707.73 1561.70,703.67 1561.70,699.60 C1561.70,693.50 1561.51,687.40 1561.30,681.30 C1561.17,677.63 1560.84,673.97 1560.50,670.30 Z" fill="#104E8B" stroke="#1a1a1a" stroke-width="1.30" stroke-linejoin="round"/>
<path d="M1682.30,757.60 L1692.50,757.60 C1693.21,761.33 1693.50,765.07 1693.50,768.80 C1693.50,773.53 1691.97,778.27 1691.50,783.00 C1690.83,789.80 1690.29,796.60 1690.00,803.40 C1689.71,810.17 1689.40,816.93 1689.40,823.70 C1689.40,830.50 1689.48,837.30 1689.60,844.10 C1689.72,850.87 1690.48,857.63 1691.50,864.40 C1692.01,867.80 1693.04,871.20 1694.50,874.60 C1695.96,878.00 1699.67,881.40 1702.70,884.80 C1705.70,888.17 1710.01,891.53 1712.80,894.90 C1715.61,898.30 1718.52,901.70 1720.00,905.10 C1721.48,908.50 1723.20,911.90 1723.20,915.30 C1723.20,918.70 1722.63,922.10 1722.30,925.50 C1721.97,928.87 1721.20,932.23 1721.20,935.60 C1721.20,939.00 1723.99,942.40 1725.00,945.80 C1726.01,949.20 1727.50,952.60 1727.50,956.00 C1727.50,959.37 1726.90,962.73 1726.10,966.10 C1725.30,969.50 1720.44,972.90 1717.90,976.30 C1715.36,979.70 1712.99,983.10 1710.80,986.50 C1708.61,989.90 1706.74,993.30 1704.70,996.70 C1702.68,1000.07 1700.62,1003.43 1698.60,1006.80 C1696.56,1010.20 1693.87,1013.60 1692.50,1017.00 C1691.13,1020.40 1689.87,1023.80 1689.40,1027.20 C1688.94,1030.60 1688.64,1034.00 1688.50,1037.40 C1688.22,1044.17 1688.00,1050.93 1688.00,1057.70 C1688.00,1060.40 1688.00,1063.10 1688.00,1065.80 L1686.80,1065.80 C1686.80,1063.10 1686.80,1060.40 1686.80,1057.70 C1686.80,1050.93 1686.58,1044.17 1686.30,1037.40 C1686.16,1034.00 1685.87,1030.60 1685.40,1027.20 C1684.94,1023.80 1683.67,1020.40 1682.30,1017.00 C1680.93,1013.60 1678.24,1010.20 1676.20,1006.80 C1674.18,1003.43 1672.12,1000.07 1670.10,996.70 C1668.06,993.30 1666.19,989.90 1664.00,986.50 C1661.81,983.10 1659.44,979.70 1656.90,976.30 C1654.36,972.90 1649.50,969.50 1648.70,966.10 C1647.90,962.73 1647.30,959.37 1647.30,956.00 C1647.30,952.60 1648.79,949.20 1649.80,945.80 C1650.81,942.40 1653.60,939.00 1653.60,935.60 C1653.60,932.23 1652.83,928.87 1652.50,925.50 C1652.17,922.10 1651.60,918.70 1651.60,915.30 C1651.60,911.90 1653.32,908.50 1654.80,905.10 C1656.28,901.70 1659.19,898.30 1662.00,894.90 C1664.79,891.53 1669.10,888.17 1672.10,884.80 C1675.13,881.40 1678.84,878.00 1680.30,874.60 C1681.76,871.20 1682.79,867.80 1683.30,864.40 C1684.32,857.63 1685.08,850.87 1685.20,844.10 C1685.32,837.30 1685.40,830.50 1685.40,823.70 C1685.40,816.93 1685.09,810.17 1684.80,803.40 C1684.51,796.60 1683.97,789.80 1683.30,783.00 C1682.83,778.27 1681.30,773.53 1681.30,768.80 C1681.30,765.07 1681.59,761.33 1682.30,757.60 Z" fill="#8B0000" stroke="#1a1a1a" stroke-width="1.30" stroke-linejoin="round"/>
<line x1="1437.30" y1="730.50" x2="1437.30" y2="832.60" stroke="#000" stroke-width="1.5"/>
<line x1="1437.30" y1="951.10" x2="1437.30" y2="1069.10" stroke="#000" stroke-width="1.5"/>
<rect x="1430.85" y="832.60" width="12.90" height="118.50" fill="#6CA6CD" stroke="#000" stroke-width="1.6"/>
<line x1="1430.85" y1="882.70" x2="1443.75" y2="882.70" stroke="#000" stroke-width="3.2"/>
<circle cx="1437.30" cy="890.40" r="3.2" fill="#FF0000"/>
<line x1="1562.30" y1="833.70" x2="1562.30" y2="899.50" stroke="#000" stroke-width="1.5"/>
<line x1="1562.30" y1="945.40" x2="1562.30" y2="1003.40" stroke="#000" stroke-width="1.5"/>
<rect x="1555.70" y="899.50" width="13.20" height="45.90" fill="#104E8B" stroke="#000" stroke-width="1.6"/>
<line x1="1555.70" y1="927.70" x2="1568.90" y2="927.70" stroke="#000" stroke-width="3.2"/>
<circle cx="1562.30" cy="670.30" r="3.3" fill="#000"/>
<circle cx="1562.30" cy="724.00" r="3.3" fill="#000"/>
<circle cx="1562.30" cy="741.70" r="3.3" fill="#000"/>
<circle cx="1562.30" cy="745.90" r="3.3" fill="#000"/>
<circle cx="1562.30" cy="774.00" r="3.3" fill="#000"/>
<circle cx="1562.30" cy="788.00" r="3.3" fill="#000"/>
<circle cx="1562.30" cy="789.80" r="3.3" fill="#000"/>
<circle cx="1562.30" cy="804.50" r="3.3" fill="#000"/>
<circle cx="1562.30" cy="810.60" r="3.3" fill="#000"/>
<circle cx="1562.30" cy="816.70" r="3.3" fill="#000"/>
<circle cx="1562.30" cy="825.20" r="3.3" fill="#000"/>
<circle cx="1562.30" cy="830.10" r="3.3" fill="#000"/>
<circle cx="1562.30" cy="1018.50" r="3.3" fill="#000"/>
<circle cx="1562.30" cy="1022.20" r="3.3" fill="#000"/>
<circle cx="1562.30" cy="1025.40" r="3.3" fill="#000"/>
<circle cx="1562.30" cy="1034.60" r="3.3" fill="#000"/>
<circle cx="1562.30" cy="913.40" r="3.2" fill="#FF0000"/>
<line x1="1687.40" y1="831.90" x2="1687.40" y2="908.80" stroke="#000" stroke-width="1.5"/>
<line x1="1687.40" y1="963.70" x2="1687.40" y2="1008.90" stroke="#000" stroke-width="1.5"/>
<rect x="1680.90" y="908.80" width="13.00" height="54.90" fill="#8B0000" stroke="#000" stroke-width="1.6"/>
<line x1="1680.90" y1="939.30" x2="1693.90" y2="939.30" stroke="#000" stroke-width="3.2"/>
<circle cx="1687.40" cy="757.60" r="3.3" fill="#000"/>
<circle cx="1687.40" cy="762.70" r="3.3" fill="#000"/>
<circle cx="1687.40" cy="768.80" r="3.3" fill="#000"/>
<circle cx="1687.40" cy="772.90" r="3.3" fill="#000"/>
<circle cx="1687.40" cy="783.00" r="3.3" fill="#000"/>
<circle cx="1687.40" cy="805.40" r="3.3" fill="#000"/>
<circle cx="1687.40" cy="811.50" r="3.3" fill="#000"/>
<circle cx="1687.40" cy="1065.80" r="3.3" fill="#000"/>
<circle cx="1687.40" cy="929.10" r="3.2" fill="#FF0000"/>
<rect x="1363.10" y="651.80" width="398.20" height="437.40" fill="none" stroke="#000" stroke-width="2.6"/>
<line x1="1357.60" y1="990.90" x2="1363.10" y2="990.90" stroke="#333" stroke-width="1.2"/>
<text transform="translate(1354.60,1002.90) scale(1,1.0600)" font-size="30.30" text-anchor="end">2000</text>
<line x1="1357.60" y1="834.40" x2="1363.10" y2="834.40" stroke="#333" stroke-width="1.2"/>
<text transform="translate(1354.60,846.40) scale(1,1.0600)" font-size="30.30" text-anchor="end">4000</text>
<line x1="1357.60" y1="677.90" x2="1363.10" y2="677.90" stroke="#333" stroke-width="1.2"/>
<text transform="translate(1354.60,689.90) scale(1,1.0600)" font-size="30.30" text-anchor="end">6000</text>
<line x1="1437.76" y1="1089.20" x2="1437.76" y2="1094.70" stroke="#333" stroke-width="1.2"/>
<text transform="translate(1437.76,1119.60) scale(1,1.0450)" font-size="29.80" text-anchor="middle">Belize</text>
<line x1="1562.20" y1="1089.20" x2="1562.20" y2="1094.70" stroke="#333" stroke-width="1.2"/>
<text transform="translate(1562.20,1119.60) scale(1,1.0450)" font-size="29.80" text-anchor="middle">Panama</text>
<line x1="1686.64" y1="1089.20" x2="1686.64" y2="1094.70" stroke="#333" stroke-width="1.2"/>
<text transform="translate(1686.64,1119.60) scale(1,1.0450)" font-size="29.80" text-anchor="middle">Florida</text>
<text transform="translate(1562.20,1170.30) scale(1,1.0500)" font-size="30.35" text-anchor="middle">Location</text>
<text transform="translate(1262.50,892.30) rotate(-90) scale(1,1.0500)" font-size="32.30" text-anchor="middle">Maximum Frequency (Hz)</text>
<path d="M235.55,1215.80 L239.65,1215.80 C239.94,1220.23 240.21,1224.67 240.40,1229.10 C240.74,1237.13 240.77,1245.17 241.20,1253.20 C241.63,1261.23 242.98,1269.27 244.50,1277.30 C245.26,1281.33 246.60,1285.37 247.80,1289.40 C248.99,1293.40 250.42,1297.40 251.70,1301.40 C254.28,1309.43 256.95,1317.47 259.30,1325.50 C261.65,1333.53 263.06,1341.57 265.90,1349.60 C268.75,1357.67 273.16,1365.73 278.00,1373.80 C282.82,1381.83 290.63,1389.87 296.10,1397.90 C301.57,1405.93 308.14,1413.97 311.10,1422.00 C314.06,1430.03 317.03,1438.07 317.40,1446.10 C317.77,1454.13 318.00,1462.17 318.00,1470.20 C318.00,1478.23 316.97,1486.27 315.90,1494.30 C314.83,1502.33 311.71,1510.37 309.00,1518.40 C306.29,1526.43 302.57,1534.47 299.10,1542.50 C295.63,1550.53 292.33,1558.57 288.10,1566.60 C283.87,1574.63 278.16,1582.67 273.10,1590.70 C268.10,1598.63 263.03,1606.57 257.90,1614.50 L217.30,1614.50 C212.17,1606.57 207.10,1598.63 202.10,1590.70 C197.04,1582.67 191.33,1574.63 187.10,1566.60 C182.87,1558.57 179.57,1550.53 176.10,1542.50 C172.63,1534.47 168.91,1526.43 166.20,1518.40 C163.49,1510.37 160.37,1502.33 159.30,1494.30 C158.23,1486.27 157.20,1478.23 157.20,1470.20 C157.20,1462.17 157.43,1454.13 157.80,1446.10 C158.17,1438.07 161.14,1430.03 164.10,1422.00 C167.06,1413.97 173.63,1405.93 179.10,1397.90 C184.57,1389.87 192.38,1381.83 197.20,1373.80 C202.04,1365.73 206.45,1357.67 209.30,1349.60 C212.14,1341.57 213.55,1333.53 215.90,1325.50 C218.25,1317.47 220.92,1309.43 223.50,1301.40 C224.78,1297.40 226.21,1293.40 227.40,1289.40 C228.60,1285.37 229.94,1281.33 230.70,1277.30 C232.22,1269.27 233.57,1261.23 234.00,1253.20 C234.43,1245.17 234.46,1237.13 234.80,1229.10 C234.99,1224.67 235.26,1220.23 235.55,1215.80 Z" fill="#6CA6CD" stroke="#1a1a1a" stroke-width="1.30" stroke-linejoin="round"/>
<path d="M416.25,1256.70 L434.15,1256.70 C434.73,1260.80 435.27,1264.90 435.70,1269.00 C436.37,1275.37 436.52,1281.73 437.40,1288.10 C438.28,1294.43 440.64,1300.77 443.30,1307.10 C445.97,1313.47 451.41,1319.83 455.70,1326.20 C459.97,1332.53 464.42,1338.87 469.00,1345.20 C473.61,1351.57 478.38,1357.93 483.30,1364.30 C488.20,1370.63 494.59,1376.97 498.50,1383.30 C502.43,1389.67 507.28,1396.03 508.10,1402.40 C508.91,1408.73 509.50,1415.07 509.50,1421.40 C509.50,1427.77 509.00,1434.13 509.00,1440.50 C509.00,1446.83 509.50,1453.17 509.50,1459.50 C509.50,1465.87 508.89,1472.23 508.10,1478.60 C507.31,1484.93 503.55,1491.27 500.40,1497.60 C497.23,1503.97 492.52,1510.33 488.10,1516.70 C483.70,1523.03 478.72,1529.37 473.80,1535.70 C468.86,1542.07 463.13,1548.43 458.50,1554.80 C454.36,1560.50 450.54,1566.20 447.10,1571.90 L403.30,1571.90 C399.86,1566.20 396.04,1560.50 391.90,1554.80 C387.27,1548.43 381.54,1542.07 376.60,1535.70 C371.68,1529.37 366.70,1523.03 362.30,1516.70 C357.88,1510.33 353.17,1503.97 350.00,1497.60 C346.85,1491.27 343.09,1484.93 342.30,1478.60 C341.51,1472.23 340.90,1465.87 340.90,1459.50 C340.90,1453.17 341.40,1446.83 341.40,1440.50 C341.40,1434.13 340.90,1427.77 340.90,1421.40 C340.90,1415.07 341.49,1408.73 342.30,1402.40 C343.12,1396.03 347.97,1389.67 351.90,1383.30 C355.81,1376.97 362.20,1370.63 367.10,1364.30 C372.02,1357.93 376.79,1351.57 381.40,1345.20 C385.98,1338.87 390.43,1332.53 394.70,1326.20 C398.99,1319.83 404.43,1313.47 407.10,1307.10 C409.76,1300.77 412.12,1294.43 413.00,1288.10 C413.88,1281.73 414.03,1275.37 414.70,1269.00 C415.13,1264.90 415.67,1260.80 416.25,1256.70 Z" fill="#8B0000" stroke="#1a1a1a" stroke-width="1.30" stroke-linejoin="round"/>
<line x1="237.60" y1="1304.30" x2="237.60" y2="1420.80" stroke="#000" stroke-width="1.5"/>
<line x1="237.60" y1="1525.60" x2="237.60" y2="1614.50" stroke="#000" stroke-width="1.5"/>
<rect x="228.10" y="1420.80" width="19.00" height="104.80" fill="#6CA6CD" stroke="#000" stroke-width="1.6"/>
<line x1="228.10" y1="1471.40" x2="247.10" y2="1471.40" stroke="#000" stroke-width="3.2"/>
<circle cx="237.60" cy="1215.10" r="3.3" fill="#000"/>
<circle cx="237.60" cy="1470.90" r="3.2" fill="#FF0000"/>
<line x1="425.20" y1="1256.70" x2="425.20" y2="1393.20" stroke="#000" stroke-width="1.5"/>
<line x1="425.20" y1="1495.10" x2="425.20" y2="1571.90" stroke="#000" stroke-width="1.5"/>
<rect x="415.70" y="1393.20" width="19.00" height="101.90" fill="#8B0000" stroke="#000" stroke-width="1.6"/>
<line x1="415.70" y1="1444.30" x2="434.70" y2="1444.30" stroke="#000" stroke-width="3.2"/>
<circle cx="425.20" cy="1439.10" r="3.2" fill="#FF0000"/>
<rect x="125.70" y="1196.40" width="411.30" height="437.30" fill="none" stroke="#000" stroke-width="2.6"/>
<line x1="120.20" y1="1557.40" x2="125.70" y2="1557.40" stroke="#333" stroke-width="1.2"/>
<text transform="translate(117.20,1569.40) scale(1,1.0600)" font-size="29.80" text-anchor="end">0.1</text>
<line x1="120.20" y1="1444.33" x2="125.70" y2="1444.33" stroke="#333" stroke-width="1.2"/>
<text transform="translate(117.20,1456.33) scale(1,1.0600)" font-size="29.80" text-anchor="end">0.2</text>
<line x1="120.20" y1="1331.27" x2="125.70" y2="1331.27" stroke="#333" stroke-width="1.2"/>
<text transform="translate(117.20,1343.27) scale(1,1.0600)" font-size="29.80" text-anchor="end">0.3</text>
<line x1="120.20" y1="1218.20" x2="125.70" y2="1218.20" stroke="#333" stroke-width="1.2"/>
<text transform="translate(117.20,1230.20) scale(1,1.0600)" font-size="29.80" text-anchor="end">0.4</text>
<line x1="237.87" y1="1633.70" x2="237.87" y2="1639.20" stroke="#333" stroke-width="1.2"/>
<text transform="translate(237.87,1664.00) scale(1,1.0450)" font-size="29.70" text-anchor="middle">Belize</text>
<line x1="424.83" y1="1633.70" x2="424.83" y2="1639.20" stroke="#333" stroke-width="1.2"/>
<text transform="translate(424.83,1664.00) scale(1,1.0450)" font-size="29.70" text-anchor="middle">Florida</text>
<text transform="translate(331.65,1714.90) scale(1,1.0500)" font-size="29.40" text-anchor="middle">Location</text>
<text transform="translate(29.40,1404.95) rotate(-90) scale(1,1.0500)" font-size="32.30" text-anchor="middle">Duration (s)</text>
<path d="M821.40,1394.10 L841.00,1394.10 C842.41,1398.80 843.75,1403.50 845.00,1408.20 C846.20,1412.70 847.28,1417.20 848.40,1421.70 C849.51,1426.17 850.49,1430.63 851.70,1435.10 C852.92,1439.60 854.25,1444.10 855.80,1448.60 C857.35,1453.10 859.46,1457.60 861.20,1462.10 C862.92,1466.57 865.04,1471.03 866.20,1475.50 C867.37,1480.00 868.49,1484.50 868.90,1489.00 C869.31,1493.50 869.43,1498.00 869.70,1502.50 C869.97,1506.97 870.08,1511.43 870.50,1515.90 C870.93,1520.40 872.23,1524.90 873.60,1529.40 C874.97,1533.90 877.79,1538.40 879.70,1542.90 C881.61,1547.40 883.96,1551.90 885.10,1556.40 C886.24,1560.87 887.60,1565.33 887.60,1569.80 C887.60,1574.30 887.41,1578.80 887.10,1583.30 C886.79,1587.77 883.62,1592.23 881.00,1596.70 C878.88,1600.30 875.54,1603.90 872.30,1607.50 C870.26,1609.77 867.94,1612.03 865.50,1614.30 L796.90,1614.30 C794.46,1612.03 792.14,1609.77 790.10,1607.50 C786.86,1603.90 783.52,1600.30 781.40,1596.70 C778.78,1592.23 775.61,1587.77 775.30,1583.30 C774.99,1578.80 774.80,1574.30 774.80,1569.80 C774.80,1565.33 776.16,1560.87 777.30,1556.40 C778.44,1551.90 780.79,1547.40 782.70,1542.90 C784.61,1538.40 787.43,1533.90 788.80,1529.40 C790.17,1524.90 791.47,1520.40 791.90,1515.90 C792.32,1511.43 792.43,1506.97 792.70,1502.50 C792.97,1498.00 793.09,1493.50 793.50,1489.00 C793.91,1484.50 795.03,1480.00 796.20,1475.50 C797.36,1471.03 799.48,1466.57 801.20,1462.10 C802.94,1457.60 805.05,1453.10 806.60,1448.60 C808.15,1444.10 809.48,1439.60 810.70,1435.10 C811.91,1430.63 812.89,1426.17 814.00,1421.70 C815.12,1417.20 816.20,1412.70 817.40,1408.20 C818.65,1403.50 819.99,1398.80 821.40,1394.10 Z" fill="#6CA6CD" stroke="#1a1a1a" stroke-width="1.30" stroke-linejoin="round"/>
<path d="M950.20,1214.70 L965.60,1214.70 C966.49,1218.87 967.42,1223.03 968.40,1227.20 C969.91,1233.60 971.87,1240.00 973.20,1246.40 C974.52,1252.77 975.50,1259.13 976.60,1265.50 C977.70,1271.90 978.46,1278.30 979.80,1284.70 C981.14,1291.10 983.21,1297.50 985.20,1303.90 C987.19,1310.30 990.04,1316.70 991.90,1323.10 C993.76,1329.50 995.49,1335.90 996.70,1342.30 C997.90,1348.67 998.94,1355.03 999.60,1361.40 C1000.26,1367.80 1000.78,1374.20 1001.10,1380.60 C1001.42,1387.00 1001.80,1393.40 1001.80,1399.80 C1001.80,1406.20 1000.47,1412.60 999.10,1419.00 C997.73,1425.37 993.20,1431.73 990.50,1438.10 C987.78,1444.50 984.82,1450.90 982.80,1457.30 C980.78,1463.70 979.58,1470.10 977.80,1476.50 C976.02,1482.90 973.84,1489.30 972.10,1495.70 C970.36,1502.10 968.55,1508.50 967.30,1514.90 C966.30,1520.00 965.44,1525.10 964.80,1530.20 L951.00,1530.20 C950.36,1525.10 949.50,1520.00 948.50,1514.90 C947.25,1508.50 945.44,1502.10 943.70,1495.70 C941.96,1489.30 939.78,1482.90 938.00,1476.50 C936.22,1470.10 935.02,1463.70 933.00,1457.30 C930.98,1450.90 928.02,1444.50 925.30,1438.10 C922.60,1431.73 918.07,1425.37 916.70,1419.00 C915.33,1412.60 914.00,1406.20 914.00,1399.80 C914.00,1393.40 914.38,1387.00 914.70,1380.60 C915.02,1374.20 915.54,1367.80 916.20,1361.40 C916.86,1355.03 917.90,1348.67 919.10,1342.30 C920.31,1335.90 922.04,1329.50 923.90,1323.10 C925.76,1316.70 928.61,1310.30 930.60,1303.90 C932.59,1297.50 934.66,1291.10 936.00,1284.70 C937.34,1278.30 938.10,1271.90 939.20,1265.50 C940.30,1259.13 941.28,1252.77 942.60,1246.40 C943.93,1240.00 945.89,1233.60 947.40,1227.20 C948.38,1223.03 949.31,1218.87 950.20,1214.70 Z" fill="#104E8B" stroke="#1a1a1a" stroke-width="1.30" stroke-linejoin="round"/>
<path d="M1082.70,1303.00 L1087.70,1303.00 C1087.88,1306.63 1088.26,1310.27 1088.70,1313.90 C1089.41,1319.73 1090.68,1325.57 1092.20,1331.40 C1093.73,1337.27 1096.53,1343.13 1098.80,1349.00 C1101.06,1354.83 1103.61,1360.67 1105.80,1366.50 C1108.00,1372.37 1109.94,1378.23 1112.00,1384.10 C1114.04,1389.93 1116.07,1395.77 1118.10,1401.60 C1120.14,1407.47 1122.14,1413.33 1124.20,1419.20 C1126.24,1425.03 1128.09,1430.87 1130.40,1436.70 C1132.72,1442.57 1136.55,1448.43 1138.30,1454.30 C1140.04,1460.13 1141.70,1465.97 1142.20,1471.80 C1142.45,1474.73 1142.70,1477.67 1142.70,1480.60 C1142.70,1483.53 1141.67,1486.47 1140.90,1489.40 C1139.38,1495.23 1136.49,1501.07 1133.90,1506.90 C1131.29,1512.77 1128.30,1518.63 1125.10,1524.50 C1121.92,1530.33 1118.09,1536.17 1114.60,1542.00 C1111.09,1547.87 1107.70,1553.73 1104.10,1559.60 C1102.67,1561.93 1101.19,1564.27 1099.70,1566.60 L1070.70,1566.60 C1069.21,1564.27 1067.73,1561.93 1066.30,1559.60 C1062.70,1553.73 1059.31,1547.87 1055.80,1542.00 C1052.31,1536.17 1048.48,1530.33 1045.30,1524.50 C1042.10,1518.63 1039.11,1512.77 1036.50,1506.90 C1033.91,1501.07 1031.02,1495.23 1029.50,1489.40 C1028.73,1486.47 1027.70,1483.53 1027.70,1480.60 C1027.70,1477.67 1027.95,1474.73 1028.20,1471.80 C1028.70,1465.97 1030.36,1460.13 1032.10,1454.30 C1033.85,1448.43 1037.68,1442.57 1040.00,1436.70 C1042.31,1430.87 1044.16,1425.03 1046.20,1419.20 C1048.26,1413.33 1050.26,1407.47 1052.30,1401.60 C1054.33,1395.77 1056.36,1389.93 1058.40,1384.10 C1060.46,1378.23 1062.40,1372.37 1064.60,1366.50 C1066.79,1360.67 1069.34,1354.83 1071.60,1349.00 C1073.87,1343.13 1076.67,1337.27 1078.20,1331.40 C1079.72,1325.57 1080.99,1319.73 1081.70,1313.90 C1082.14,1310.27 1082.52,1306.63 1082.70,1303.00 Z" fill="#8B0000" stroke="#1a1a1a" stroke-width="1.30" stroke-linejoin="round"/>
<line x1="831.20" y1="1394.10" x2="831.20" y2="1488.70" stroke="#000" stroke-width="1.5"/>
<line x1="831.20" y1="1584.60" x2="831.20" y2="1614.30" stroke="#000" stroke-width="1.5"/>
<rect x="824.65" y="1488.70" width="13.10" height="95.90" fill="#6CA6CD" stroke="#000" stroke-width="1.6"/>
<line x1="824.65" y1="1542.90" x2="837.75" y2="1542.90" stroke="#000" stroke-width="3.2"/>
<circle cx="831.20" cy="1530.50" r="3.2" fill="#FF0000"/>
<line x1="957.90" y1="1214.70" x2="957.90" y2="1328.80" stroke="#000" stroke-width="1.5"/>
<line x1="957.90" y1="1422.80" x2="957.90" y2="1530.20" stroke="#000" stroke-width="1.5"/>
<rect x="951.50" y="1328.80" width="12.80" height="94.00" fill="#104E8B" stroke="#000" stroke-width="1.6"/>
<line x1="951.50" y1="1377.20" x2="964.30" y2="1377.20" stroke="#000" stroke-width="3.2"/>
<circle cx="957.90" cy="1375.80" r="3.2" fill="#FF0000"/>
<line x1="1085.20" y1="1303.00" x2="1085.20" y2="1423.60" stroke="#000" stroke-width="1.5"/>
<line x1="1085.20" y1="1505.70" x2="1085.20" y2="1566.60" stroke="#000" stroke-width="1.5"/>
<rect x="1078.40" y="1423.60" width="13.60" height="82.10" fill="#8B0000" stroke="#000" stroke-width="1.6"/>
<line x1="1078.40" y1="1469.70" x2="1092.00" y2="1469.70" stroke="#000" stroke-width="3.2"/>
<circle cx="1085.20" cy="1461.60" r="3.2" fill="#FF0000"/>
<rect x="755.50" y="1196.20" width="404.90" height="437.10" fill="none" stroke="#000" stroke-width="2.6"/>
<line x1="750.00" y1="1557.20" x2="755.50" y2="1557.20" stroke="#333" stroke-width="1.2"/>
<text transform="translate(747.00,1569.20) scale(1,1.0600)" font-size="29.10" text-anchor="end">0.1</text>
<line x1="750.00" y1="1475.20" x2="755.50" y2="1475.20" stroke="#333" stroke-width="1.2"/>
<text transform="translate(747.00,1487.20) scale(1,1.0600)" font-size="29.10" text-anchor="end">0.2</text>
<line x1="750.00" y1="1393.20" x2="755.50" y2="1393.20" stroke="#333" stroke-width="1.2"/>
<text transform="translate(747.00,1405.20) scale(1,1.0600)" font-size="29.10" text-anchor="end">0.3</text>
<line x1="750.00" y1="1311.20" x2="755.50" y2="1311.20" stroke="#333" stroke-width="1.2"/>
<text transform="translate(747.00,1323.20) scale(1,1.0600)" font-size="29.10" text-anchor="end">0.4</text>
<line x1="750.00" y1="1229.20" x2="755.50" y2="1229.20" stroke="#333" stroke-width="1.2"/>
<text transform="translate(747.00,1241.20) scale(1,1.0600)" font-size="29.10" text-anchor="end">0.5</text>
<line x1="831.42" y1="1633.30" x2="831.42" y2="1638.80" stroke="#333" stroke-width="1.2"/>
<text transform="translate(831.42,1663.70) scale(1,1.0450)" font-size="28.50" text-anchor="middle">Belize</text>
<line x1="957.95" y1="1633.30" x2="957.95" y2="1638.80" stroke="#333" stroke-width="1.2"/>
<text transform="translate(957.95,1663.70) scale(1,1.0450)" font-size="28.50" text-anchor="middle">Panama</text>
<line x1="1084.48" y1="1633.30" x2="1084.48" y2="1638.80" stroke="#333" stroke-width="1.2"/>
<text transform="translate(1084.48,1663.70) scale(1,1.0450)" font-size="28.50" text-anchor="middle">Florida</text>
<text transform="translate(957.95,1714.30) scale(1,1.0500)" font-size="29.00" text-anchor="middle">Location</text>
<text transform="translate(652.40,1402.65) rotate(-90) scale(1,1.0500)" font-size="32.30" text-anchor="middle">Duration (s)</text>
<path d="M1431.60,1320.60 L1434.60,1320.60 C1434.53,1323.70 1434.44,1326.80 1434.35,1329.90 C1434.17,1335.87 1433.70,1341.83 1433.70,1347.80 C1433.70,1371.67 1433.70,1395.53 1433.70,1419.40 C1433.70,1425.37 1434.61,1431.33 1435.20,1437.30 C1435.67,1442.07 1436.61,1446.83 1436.90,1451.60 C1437.26,1457.57 1437.19,1463.53 1437.60,1469.50 C1437.89,1473.67 1439.02,1477.83 1440.30,1482.00 C1441.22,1485.00 1443.08,1488.00 1444.70,1491.00 C1446.31,1493.97 1448.82,1496.93 1450.10,1499.90 C1451.39,1502.90 1452.63,1505.90 1453.10,1508.90 C1453.56,1511.87 1453.62,1514.83 1454.00,1517.80 C1454.38,1520.77 1454.86,1523.73 1455.50,1526.70 C1456.15,1529.70 1457.63,1532.70 1458.20,1535.70 C1458.60,1537.80 1458.76,1539.90 1459.10,1542.00 C1459.39,1543.77 1459.60,1545.53 1460.10,1547.30 C1460.80,1549.77 1462.98,1552.23 1465.00,1554.70 C1466.99,1557.13 1470.06,1559.57 1472.80,1562.00 C1475.58,1564.47 1479.16,1566.93 1481.60,1569.40 C1484.01,1571.83 1486.52,1574.27 1487.80,1576.70 C1489.09,1579.17 1490.60,1581.63 1490.60,1584.10 C1490.60,1586.53 1489.04,1588.97 1487.50,1591.40 C1485.94,1593.87 1481.98,1596.33 1478.30,1598.80 C1474.67,1601.23 1469.11,1603.67 1464.70,1606.10 C1460.29,1608.53 1456.34,1610.97 1451.80,1613.40 C1450.87,1613.90 1449.88,1614.40 1448.90,1614.90 L1417.30,1614.90 C1416.32,1614.40 1415.33,1613.90 1414.40,1613.40 C1409.86,1610.97 1405.91,1608.53 1401.50,1606.10 C1397.09,1603.67 1391.53,1601.23 1387.90,1598.80 C1384.22,1596.33 1380.26,1593.87 1378.70,1591.40 C1377.16,1588.97 1375.60,1586.53 1375.60,1584.10 C1375.60,1581.63 1377.11,1579.17 1378.40,1576.70 C1379.68,1574.27 1382.19,1571.83 1384.60,1569.40 C1387.04,1566.93 1390.62,1564.47 1393.40,1562.00 C1396.14,1559.57 1399.21,1557.13 1401.20,1554.70 C1403.22,1552.23 1405.40,1549.77 1406.10,1547.30 C1406.60,1545.53 1406.81,1543.77 1407.10,1542.00 C1407.44,1539.90 1407.60,1537.80 1408.00,1535.70 C1408.57,1532.70 1410.05,1529.70 1410.70,1526.70 C1411.34,1523.73 1411.82,1520.77 1412.20,1517.80 C1412.57,1514.83 1412.64,1511.87 1413.10,1508.90 C1413.57,1505.90 1414.81,1502.90 1416.10,1499.90 C1417.38,1496.93 1419.89,1493.97 1421.50,1491.00 C1423.12,1488.00 1424.98,1485.00 1425.90,1482.00 C1427.18,1477.83 1428.31,1473.67 1428.60,1469.50 C1429.01,1463.53 1428.94,1457.57 1429.30,1451.60 C1429.59,1446.83 1430.53,1442.07 1431.00,1437.30 C1431.59,1431.33 1432.50,1425.37 1432.50,1419.40 C1432.50,1395.53 1432.50,1371.67 1432.50,1347.80 C1432.50,1341.83 1432.03,1335.87 1431.85,1329.90 C1431.76,1326.80 1431.67,1323.70 1431.60,1320.60 Z" fill="#6CA6CD" stroke="#1a1a1a" stroke-width="1.30" stroke-linejoin="round"/>
<path d="M1558.90,1214.90 L1561.90,1214.90 C1561.59,1215.47 1561.00,1216.03 1561.00,1216.60 C1561.00,1243.67 1561.00,1270.73 1561.00,1297.80 C1561.00,1301.67 1561.37,1305.53 1561.60,1309.40 C1561.83,1313.27 1562.08,1317.13 1562.40,1321.00 C1562.72,1324.90 1563.20,1328.80 1563.60,1332.70 C1564.00,1336.57 1564.42,1340.43 1564.80,1344.30 C1565.18,1348.17 1565.52,1352.03 1565.90,1355.90 C1566.28,1359.77 1566.72,1363.63 1567.10,1367.50 C1567.48,1371.37 1567.74,1375.23 1568.20,1379.10 C1568.66,1382.97 1569.42,1386.83 1570.00,1390.70 C1570.58,1394.57 1570.97,1398.43 1571.70,1402.30 C1572.03,1404.07 1572.60,1405.83 1573.00,1407.60 C1573.95,1411.80 1574.99,1416.00 1575.60,1420.20 C1576.21,1424.40 1576.63,1428.60 1577.00,1432.80 C1577.37,1437.00 1577.69,1441.20 1577.90,1445.40 C1578.11,1449.60 1578.15,1453.80 1578.40,1458.00 C1578.65,1462.20 1579.21,1466.40 1579.90,1470.60 C1580.59,1474.80 1582.05,1479.00 1583.30,1483.20 C1584.55,1487.40 1586.57,1491.60 1587.50,1495.80 C1588.43,1500.00 1589.60,1504.20 1589.60,1508.40 C1589.60,1512.60 1589.52,1516.80 1589.40,1521.00 C1589.28,1525.20 1588.07,1529.40 1587.10,1533.60 C1586.13,1537.80 1584.57,1542.00 1583.10,1546.20 C1581.63,1550.40 1579.94,1554.60 1578.20,1558.80 C1576.46,1563.00 1574.42,1567.20 1572.60,1571.40 C1570.78,1575.60 1568.49,1579.80 1567.30,1584.00 C1566.11,1588.20 1564.99,1592.40 1564.60,1596.60 C1564.33,1599.53 1564.05,1602.47 1564.05,1605.40 L1556.75,1605.40 C1556.75,1602.47 1556.47,1599.53 1556.20,1596.60 C1555.81,1592.40 1554.69,1588.20 1553.50,1584.00 C1552.31,1579.80 1550.02,1575.60 1548.20,1571.40 C1546.38,1567.20 1544.34,1563.00 1542.60,1558.80 C1540.86,1554.60 1539.17,1550.40 1537.70,1546.20 C1536.23,1542.00 1534.67,1537.80 1533.70,1533.60 C1532.73,1529.40 1531.52,1525.20 1531.40,1521.00 C1531.28,1516.80 1531.20,1512.60 1531.20,1508.40 C1531.20,1504.20 1532.37,1500.00 1533.30,1495.80 C1534.23,1491.60 1536.25,1487.40 1537.50,1483.20 C1538.75,1479.00 1540.21,1474.80 1540.90,1470.60 C1541.59,1466.40 1542.15,1462.20 1542.40,1458.00 C1542.65,1453.80 1542.69,1449.60 1542.90,1445.40 C1543.11,1441.20 1543.43,1437.00 1543.80,1432.80 C1544.17,1428.60 1544.59,1424.40 1545.20,1420.20 C1545.81,1416.00 1546.85,1411.80 1547.80,1407.60 C1548.20,1405.83 1548.77,1404.07 1549.10,1402.30 C1549.83,1398.43 1550.22,1394.57 1550.80,1390.70 C1551.38,1386.83 1552.14,1382.97 1552.60,1379.10 C1553.06,1375.23 1553.32,1371.37 1553.70,1367.50 C1554.08,1363.63 1554.52,1359.77 1554.90,1355.90 C1555.28,1352.03 1555.62,1348.17 1556.00,1344.30 C1556.38,1340.43 1556.80,1336.57 1557.20,1332.70 C1557.60,1328.80 1558.08,1324.90 1558.40,1321.00 C1558.72,1317.13 1558.97,1313.27 1559.20,1309.40 C1559.43,1305.53 1559.80,1301.67 1559.80,1297.80 C1559.80,1270.73 1559.80,1243.67 1559.80,1216.60 C1559.80,1216.03 1559.21,1215.47 1558.90,1214.90 Z" fill="#104E8B" stroke="#1a1a1a" stroke-width="1.30" stroke-linejoin="round"/>
<path d="M1685.65,1436.40 L1689.95,1436.40 C1690.15,1438.33 1690.36,1440.27 1690.60,1442.20 C1690.95,1445.07 1691.25,1447.93 1691.80,1450.80 C1692.35,1453.63 1693.24,1456.47 1694.45,1459.30 C1695.67,1462.17 1698.01,1465.03 1700.30,1467.90 C1702.59,1470.77 1705.91,1473.63 1708.60,1476.50 C1711.38,1479.47 1713.80,1482.43 1716.70,1485.40 C1719.27,1488.03 1723.11,1490.67 1725.00,1493.30 C1726.84,1495.87 1728.71,1498.43 1729.20,1501.00 C1729.69,1503.57 1729.91,1506.13 1730.10,1508.70 C1730.28,1511.23 1730.29,1513.77 1730.50,1516.30 C1730.71,1518.87 1731.56,1521.43 1731.90,1524.00 C1732.24,1526.53 1732.70,1529.07 1732.70,1531.60 C1732.70,1534.17 1732.41,1536.73 1732.10,1539.30 C1731.79,1541.87 1730.98,1544.43 1730.10,1547.00 C1729.23,1549.53 1727.73,1552.07 1726.30,1554.60 C1724.85,1557.17 1723.23,1559.73 1721.30,1562.30 C1719.37,1564.87 1716.80,1567.43 1714.40,1570.00 C1712.04,1572.53 1709.36,1575.07 1707.00,1577.60 C1704.60,1580.17 1701.95,1582.73 1700.10,1585.30 C1698.27,1587.83 1696.63,1590.37 1695.50,1592.90 C1694.36,1595.47 1693.92,1598.03 1692.80,1600.60 C1692.47,1601.37 1692.03,1602.13 1691.60,1602.90 L1684.00,1602.90 C1683.57,1602.13 1683.13,1601.37 1682.80,1600.60 C1681.68,1598.03 1681.24,1595.47 1680.10,1592.90 C1678.97,1590.37 1677.33,1587.83 1675.50,1585.30 C1673.65,1582.73 1671.00,1580.17 1668.60,1577.60 C1666.24,1575.07 1663.56,1572.53 1661.20,1570.00 C1658.80,1567.43 1656.23,1564.87 1654.30,1562.30 C1652.37,1559.73 1650.75,1557.17 1649.30,1554.60 C1647.87,1552.07 1646.37,1549.53 1645.50,1547.00 C1644.62,1544.43 1643.81,1541.87 1643.50,1539.30 C1643.19,1536.73 1642.90,1534.17 1642.90,1531.60 C1642.90,1529.07 1643.36,1526.53 1643.70,1524.00 C1644.04,1521.43 1644.89,1518.87 1645.10,1516.30 C1645.31,1513.77 1645.32,1511.23 1645.50,1508.70 C1645.69,1506.13 1645.91,1503.57 1646.40,1501.00 C1646.89,1498.43 1648.76,1495.87 1650.60,1493.30 C1652.49,1490.67 1656.33,1488.03 1658.90,1485.40 C1661.80,1482.43 1664.22,1479.47 1667.00,1476.50 C1669.69,1473.63 1673.01,1470.77 1675.30,1467.90 C1677.59,1465.03 1679.93,1462.17 1681.15,1459.30 C1682.36,1456.47 1683.25,1453.63 1683.80,1450.80 C1684.35,1447.93 1684.65,1445.07 1685.00,1442.20 C1685.24,1440.27 1685.45,1438.33 1685.65,1436.40 Z" fill="#8B0000" stroke="#1a1a1a" stroke-width="1.30" stroke-linejoin="round"/>
<line x1="1433.10" y1="1465.90" x2="1433.10" y2="1536.60" stroke="#000" stroke-width="1.5"/>
<line x1="1433.10" y1="1588.00" x2="1433.10" y2="1614.90" stroke="#000" stroke-width="1.5"/>
<rect x="1426.60" y="1536.60" width="13.00" height="51.40" fill="#6CA6CD" stroke="#000" stroke-width="1.6"/>
<line x1="1426.60" y1="1573.20" x2="1439.60" y2="1573.20" stroke="#000" stroke-width="3.2"/>
<circle cx="1433.10" cy="1320.60" r="3.3" fill="#000"/>
<circle cx="1433.10" cy="1451.60" r="3.3" fill="#000"/>
<circle cx="1433.10" cy="1457.00" r="3.3" fill="#000"/>
<circle cx="1433.10" cy="1559.20" r="3.2" fill="#FF0000"/>
<line x1="1560.40" y1="1325.70" x2="1560.40" y2="1437.80" stroke="#000" stroke-width="1.5"/>
<line x1="1560.40" y1="1531.10" x2="1560.40" y2="1605.40" stroke="#000" stroke-width="1.5"/>
<rect x="1553.85" y="1437.80" width="13.10" height="93.30" fill="#104E8B" stroke="#000" stroke-width="1.6"/>
<line x1="1553.85" y1="1498.60" x2="1566.95" y2="1498.60" stroke="#000" stroke-width="3.2"/>
<circle cx="1560.40" cy="1214.90" r="3.3" fill="#000"/>
<circle cx="1560.40" cy="1257.80" r="3.3" fill="#000"/>
<circle cx="1560.40" cy="1484.70" r="3.2" fill="#FF0000"/>
<line x1="1687.80" y1="1436.40" x2="1687.80" y2="1501.80" stroke="#000" stroke-width="1.5"/>
<line x1="1687.80" y1="1550.80" x2="1687.80" y2="1602.90" stroke="#000" stroke-width="1.5"/>
<rect x="1681.20" y="1501.80" width="13.20" height="49.00" fill="#8B0000" stroke="#000" stroke-width="1.6"/>
<line x1="1681.20" y1="1526.50" x2="1694.40" y2="1526.50" stroke="#000" stroke-width="3.2"/>
<circle cx="1687.80" cy="1526.30" r="3.2" fill="#FF0000"/>
<rect x="1357.80" y="1196.50" width="405.00" height="437.20" fill="none" stroke="#000" stroke-width="2.6"/>
<line x1="1352.30" y1="1632.00" x2="1357.80" y2="1632.00" stroke="#333" stroke-width="1.2"/>
<text transform="translate(1349.30,1644.00) scale(1,1.0600)" font-size="29.50" text-anchor="end">0.0</text>
<line x1="1352.30" y1="1525.20" x2="1357.80" y2="1525.20" stroke="#333" stroke-width="1.2"/>
<text transform="translate(1349.30,1537.20) scale(1,1.0600)" font-size="29.50" text-anchor="end">0.2</text>
<line x1="1352.30" y1="1418.40" x2="1357.80" y2="1418.40" stroke="#333" stroke-width="1.2"/>
<text transform="translate(1349.30,1430.40) scale(1,1.0600)" font-size="29.50" text-anchor="end">0.4</text>
<line x1="1352.30" y1="1311.60" x2="1357.80" y2="1311.60" stroke="#333" stroke-width="1.2"/>
<text transform="translate(1349.30,1323.60) scale(1,1.0600)" font-size="29.50" text-anchor="end">0.6</text>
<line x1="1352.30" y1="1204.80" x2="1357.80" y2="1204.80" stroke="#333" stroke-width="1.2"/>
<text transform="translate(1349.30,1216.80) scale(1,1.0600)" font-size="29.50" text-anchor="end">0.8</text>
<line x1="1433.74" y1="1633.70" x2="1433.74" y2="1639.20" stroke="#333" stroke-width="1.2"/>
<text transform="translate(1433.74,1664.30) scale(1,1.0450)" font-size="28.45" text-anchor="middle">Belize</text>
<line x1="1560.30" y1="1633.70" x2="1560.30" y2="1639.20" stroke="#333" stroke-width="1.2"/>
<text transform="translate(1560.30,1664.30) scale(1,1.0450)" font-size="28.45" text-anchor="middle">Panama</text>
<line x1="1686.86" y1="1633.70" x2="1686.86" y2="1639.20" stroke="#333" stroke-width="1.2"/>
<text transform="translate(1686.86,1664.30) scale(1,1.0450)" font-size="28.45" text-anchor="middle">Florida</text>
<text transform="translate(1560.30,1714.70) scale(1,1.0500)" font-size="29.00" text-anchor="middle">Location</text>
<text transform="translate(1269.40,1402.45) rotate(-90) scale(1,1.0500)" font-size="32.30" text-anchor="middle">Duration (s)</text>
</svg>
</body></html>
